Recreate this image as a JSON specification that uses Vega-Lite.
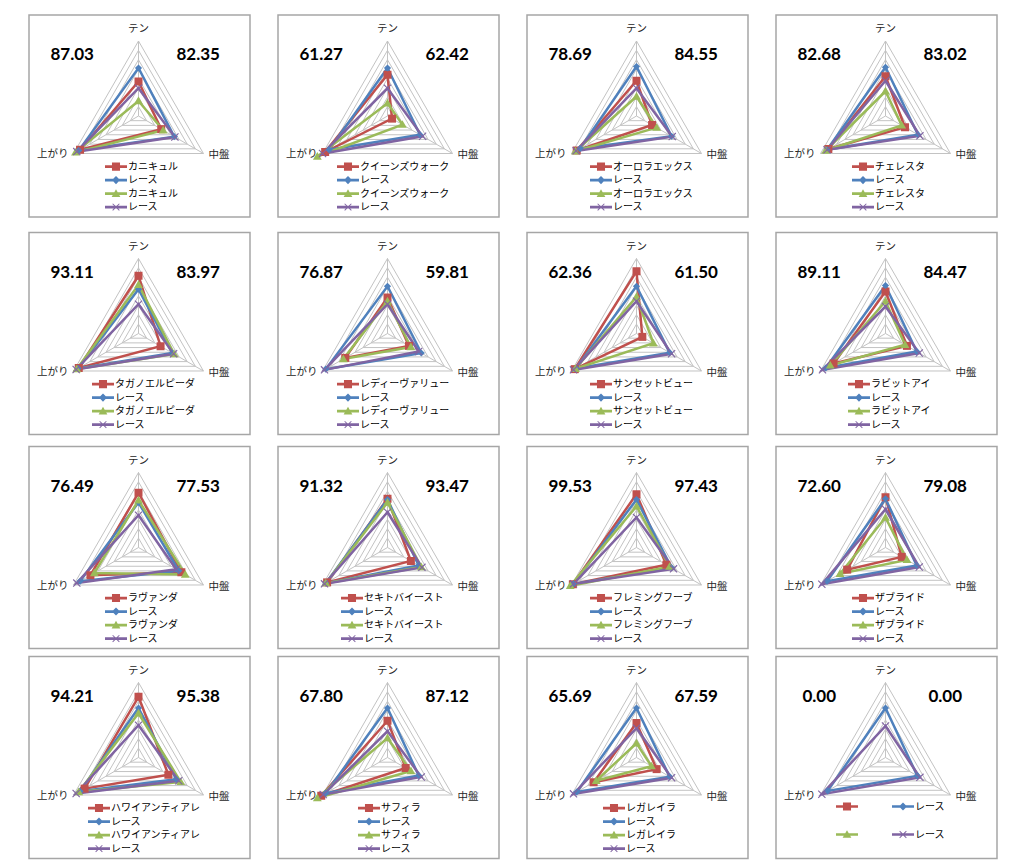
{
"$schema":"https://vega.github.io/schema/vega-lite/v6.json",
"padding":{"left":28,"top":14,"right":0,"bottom":0},
"background":"white",
"config":{"view":{"stroke":"#a6a6a6","strokeWidth":1.5},"font":"Noto Sans CJK JP",
"legend":{"symbolSize":180,"labelOffset":5,"rowPadding":1.5,"labelFontSize":10,"labelFont":"Noto Sans CJK JP","labelColor":"#000000","symbolStrokeWidth":0,"padding":0,"symbolOpacity":1,"labelLimit":200}},
"datasets":{
"g":[{"v":12.5,"a":"テン"},{"v":12.5,"a":"中盤"},{"v":12.5,"a":"上がり"},{"v":25,"a":"テン"},{"v":25,"a":"中盤"},{"v":25,"a":"上がり"},{"v":37.5,"a":"テン"},{"v":37.5,"a":"中盤"},{"v":37.5,"a":"上がり"},{"v":50,"a":"テン"},{"v":50,"a":"中盤"},{"v":50,"a":"上がり"},{"v":62.5,"a":"テン"},{"v":62.5,"a":"中盤"},{"v":62.5,"a":"上がり"},{"v":75,"a":"テン"},{"v":75,"a":"中盤"},{"v":75,"a":"上がり"},{"v":87.5,"a":"テン"},{"v":87.5,"a":"中盤"},{"v":87.5,"a":"上がり"},{"v":100,"a":"テン"},{"v":100,"a":"中盤"},{"v":100,"a":"上がり"}],
"n":[{"p":1,"l":"87.03","r":"82.35"},{"p":2,"l":"61.27","r":"62.42"},{"p":3,"l":"78.69","r":"84.55"},{"p":4,"l":"82.68","r":"83.02"},{"p":5,"l":"93.11","r":"83.97"},{"p":6,"l":"76.87","r":"59.81"},{"p":7,"l":"62.36","r":"61.50"},{"p":8,"l":"89.11","r":"84.47"},{"p":9,"l":"76.49","r":"77.53"},{"p":10,"l":"91.32","r":"93.47"},{"p":11,"l":"99.53","r":"97.43"},{"p":12,"l":"72.60","r":"79.08"},{"p":13,"l":"94.21","r":"95.38"},{"p":14,"l":"67.80","r":"87.12"},{"p":15,"l":"65.69","r":"67.59"},{"p":16,"l":"0.00","r":"0.00"}],
"s":[
{"p":1,"s":"1カニキュル","a":"テン","v":46},{"p":1,"s":"1カニキュル","a":"中盤","v":35},{"p":1,"s":"1カニキュル","a":"上がり","v":90},
{"p":1,"s":"2レース","a":"テン","v":64},{"p":1,"s":"2レース","a":"中盤","v":55},{"p":1,"s":"2レース","a":"上がり","v":92},
{"p":1,"s":"3カニキュル","a":"テン","v":20},{"p":1,"s":"3カニキュル","a":"中盤","v":38},{"p":1,"s":"3カニキュル","a":"上がり","v":97},
{"p":1,"s":"4レース","a":"テン","v":37},{"p":1,"s":"4レース","a":"中盤","v":56},{"p":1,"s":"4レース","a":"上がり","v":95},
{"p":2,"s":"1クイーンズウォーク","a":"テン","v":55},{"p":2,"s":"1クイーンズウォーク","a":"中盤","v":7},{"p":2,"s":"1クイーンズウォーク","a":"上がり","v":96},
{"p":2,"s":"2レース","a":"テン","v":64},{"p":2,"s":"2レース","a":"中盤","v":50},{"p":2,"s":"2レース","a":"上がり","v":90},
{"p":2,"s":"3クイーンズウォーク","a":"テン","v":17},{"p":2,"s":"3クイーンズウォーク","a":"中盤","v":23},{"p":2,"s":"3クイーンズウォーク","a":"上がり","v":108},
{"p":2,"s":"4レース","a":"テン","v":37},{"p":2,"s":"4レース","a":"中盤","v":54},{"p":2,"s":"4レース","a":"上がり","v":100},
{"p":3,"s":"1オーロラエックス","a":"テン","v":47},{"p":3,"s":"1オーロラエックス","a":"中盤","v":24},{"p":3,"s":"1オーロラエックス","a":"上がり","v":92},
{"p":3,"s":"2レース","a":"テン","v":66},{"p":3,"s":"2レース","a":"中盤","v":54},{"p":3,"s":"2レース","a":"上がり","v":87},
{"p":3,"s":"3オーロラエックス","a":"テン","v":26},{"p":3,"s":"3オーロラエックス","a":"中盤","v":31},{"p":3,"s":"3オーロラエックス","a":"上がり","v":94},
{"p":3,"s":"4レース","a":"テン","v":37},{"p":3,"s":"4レース","a":"中盤","v":55},{"p":3,"s":"4レース","a":"上がり","v":93},
{"p":4,"s":"1チェレスタ","a":"テン","v":53},{"p":4,"s":"1チェレスタ","a":"中盤","v":30},{"p":4,"s":"1チェレスタ","a":"上がり","v":88},
{"p":4,"s":"2レース","a":"テン","v":65},{"p":4,"s":"2レース","a":"中盤","v":50},{"p":4,"s":"2レース","a":"上がり","v":90},
{"p":4,"s":"3チェレスタ","a":"テン","v":33},{"p":4,"s":"3チェレスタ","a":"中盤","v":25},{"p":4,"s":"3チェレスタ","a":"上がり","v":92},
{"p":4,"s":"4レース","a":"テン","v":47},{"p":4,"s":"4レース","a":"中盤","v":53},{"p":4,"s":"4レース","a":"上がり","v":90},
{"p":5,"s":"1タガノエルピーダ","a":"テン","v":77},{"p":5,"s":"1タガノエルピーダ","a":"中盤","v":34},{"p":5,"s":"1タガノエルピーダ","a":"上がり","v":92},
{"p":5,"s":"2レース","a":"テン","v":59},{"p":5,"s":"2レース","a":"中盤","v":52},{"p":5,"s":"2レース","a":"上がり","v":93},
{"p":5,"s":"3タガノエルピーダ","a":"テン","v":65},{"p":5,"s":"3タガノエルピーダ","a":"中盤","v":55},{"p":5,"s":"3タガノエルピーダ","a":"上がり","v":95},
{"p":5,"s":"4レース","a":"テン","v":39},{"p":5,"s":"4レース","a":"中盤","v":54},{"p":5,"s":"4レース","a":"上がり","v":96},
{"p":6,"s":"1レディーヴァリュー","a":"テン","v":48},{"p":6,"s":"1レディーヴァリュー","a":"中盤","v":33},{"p":6,"s":"1レディーヴァリュー","a":"上がり","v":65},
{"p":6,"s":"2レース","a":"テン","v":63},{"p":6,"s":"2レース","a":"中盤","v":52},{"p":6,"s":"2レース","a":"上がり","v":95},
{"p":6,"s":"3レディーヴァリュー","a":"テン","v":43},{"p":6,"s":"3レディーヴァリュー","a":"中盤","v":36},{"p":6,"s":"3レディーヴァリュー","a":"上がり","v":68},
{"p":6,"s":"4レース","a":"テン","v":39},{"p":6,"s":"4レース","a":"中盤","v":48},{"p":6,"s":"4レース","a":"上がり","v":97},
{"p":7,"s":"1サンセットビュー","a":"テン","v":83},{"p":7,"s":"1サンセットビュー","a":"中盤","v":9},{"p":7,"s":"1サンセットビュー","a":"上がり","v":95},
{"p":7,"s":"2レース","a":"テン","v":63},{"p":7,"s":"2レース","a":"中盤","v":51},{"p":7,"s":"2レース","a":"上がり","v":93},
{"p":7,"s":"3サンセットビュー","a":"テン","v":49},{"p":7,"s":"3サンセットビュー","a":"中盤","v":26},{"p":7,"s":"3サンセットビュー","a":"上がり","v":94},
{"p":7,"s":"4レース","a":"テン","v":43},{"p":7,"s":"4レース","a":"中盤","v":54},{"p":7,"s":"4レース","a":"上がり","v":97},
{"p":8,"s":"1ラビットアイ","a":"テン","v":56},{"p":8,"s":"1ラビットアイ","a":"中盤","v":33},{"p":8,"s":"1ラビットアイ","a":"上がり","v":80},
{"p":8,"s":"2レース","a":"テン","v":64},{"p":8,"s":"2レース","a":"中盤","v":48},{"p":8,"s":"2レース","a":"上がり","v":92},
{"p":8,"s":"3ラビットアイ","a":"テン","v":43},{"p":8,"s":"3ラビットアイ","a":"中盤","v":30},{"p":8,"s":"3ラビットアイ","a":"上がり","v":85},
{"p":8,"s":"4レース","a":"テン","v":36},{"p":8,"s":"4レース","a":"中盤","v":52},{"p":8,"s":"4レース","a":"上がり","v":97},
{"p":9,"s":"1ラヴァンダ","a":"テン","v":73},{"p":9,"s":"1ラヴァンダ","a":"中盤","v":66},{"p":9,"s":"1ラヴァンダ","a":"上がり","v":74},
{"p":9,"s":"2レース","a":"テン","v":60},{"p":9,"s":"2レース","a":"中盤","v":62},{"p":9,"s":"2レース","a":"上がり","v":90},
{"p":9,"s":"3ラヴァンダ","a":"テン","v":63},{"p":9,"s":"3ラヴァンダ","a":"中盤","v":72},{"p":9,"s":"3ラヴァンダ","a":"上がり","v":68},
{"p":9,"s":"4レース","a":"テン","v":43},{"p":9,"s":"4レース","a":"中盤","v":58},{"p":9,"s":"4レース","a":"上がり","v":95},
{"p":10,"s":"1セキトバイースト","a":"テン","v":65},{"p":10,"s":"1セキトバイースト","a":"中盤","v":36},{"p":10,"s":"1セキトバイースト","a":"上がり","v":93},
{"p":10,"s":"2レース","a":"テン","v":64},{"p":10,"s":"2レース","a":"中盤","v":48},{"p":10,"s":"2レース","a":"上がり","v":95},
{"p":10,"s":"3セキトバイースト","a":"テン","v":60},{"p":10,"s":"3セキトバイースト","a":"中盤","v":52},{"p":10,"s":"3セキトバイースト","a":"上がり","v":95},
{"p":10,"s":"4レース","a":"テン","v":47},{"p":10,"s":"4レース","a":"中盤","v":53},{"p":10,"s":"4レース","a":"上がり","v":97},
{"p":11,"s":"1フレミングフーブ","a":"テン","v":71},{"p":11,"s":"1フレミングフーブ","a":"中盤","v":46},{"p":11,"s":"1フレミングフーブ","a":"上がり","v":98},
{"p":11,"s":"2レース","a":"テン","v":64},{"p":11,"s":"2レース","a":"中盤","v":54},{"p":11,"s":"2レース","a":"上がり","v":97},
{"p":11,"s":"3フレミングフーブ","a":"テン","v":55},{"p":11,"s":"3フレミングフーブ","a":"中盤","v":51},{"p":11,"s":"3フレミングフーブ","a":"上がり","v":102},
{"p":11,"s":"4レース","a":"テン","v":40},{"p":11,"s":"4レース","a":"中盤","v":57},{"p":11,"s":"4レース","a":"上がり","v":97},
{"p":12,"s":"1ザブライド","a":"テン","v":67},{"p":12,"s":"1ザブライド","a":"中盤","v":25},{"p":12,"s":"1ザブライド","a":"上がり","v":59},
{"p":12,"s":"2レース","a":"テン","v":65},{"p":12,"s":"2レース","a":"中盤","v":48},{"p":12,"s":"2レース","a":"上がり","v":90},
{"p":12,"s":"3ザブライド","a":"テン","v":40},{"p":12,"s":"3ザブライド","a":"中盤","v":33},{"p":12,"s":"3ザブライド","a":"上がり","v":70},
{"p":12,"s":"4レース","a":"テン","v":51},{"p":12,"s":"4レース","a":"中盤","v":52},{"p":12,"s":"4レース","a":"上がり","v":98},
{"p":13,"s":"1ハワイアンティアレ","a":"テン","v":81},{"p":13,"s":"1ハワイアンティアレ","a":"中盤","v":46},{"p":13,"s":"1ハワイアンティアレ","a":"上がり","v":83},
{"p":13,"s":"2レース","a":"テン","v":66},{"p":13,"s":"2レース","a":"中盤","v":58},{"p":13,"s":"2レース","a":"上がり","v":90},
{"p":13,"s":"3ハワイアンティアレ","a":"テン","v":59},{"p":13,"s":"3ハワイアンティアレ","a":"中盤","v":65},{"p":13,"s":"3ハワイアンティアレ","a":"上がり","v":92},
{"p":13,"s":"4レース","a":"テン","v":43},{"p":13,"s":"4レース","a":"中盤","v":62},{"p":13,"s":"4レース","a":"上がり","v":96},
{"p":14,"s":"1サフィラ","a":"テン","v":49},{"p":14,"s":"1サフィラ","a":"中盤","v":28},{"p":14,"s":"1サフィラ","a":"上がり","v":102},
{"p":14,"s":"2レース","a":"テン","v":66},{"p":14,"s":"2レース","a":"中盤","v":48},{"p":14,"s":"2レース","a":"上がり","v":95},
{"p":14,"s":"3サフィラ","a":"テン","v":26},{"p":14,"s":"3サフィラ","a":"中盤","v":36},{"p":14,"s":"3サフィラ","a":"上がり","v":108},
{"p":14,"s":"4レース","a":"テン","v":35},{"p":14,"s":"4レース","a":"中盤","v":52},{"p":14,"s":"4レース","a":"上がり","v":99},
{"p":15,"s":"1レガレイラ","a":"テン","v":46},{"p":15,"s":"1レガレイラ","a":"中盤","v":31},{"p":15,"s":"1レガレイラ","a":"上がり","v":66},
{"p":15,"s":"2レース","a":"テン","v":66},{"p":15,"s":"2レース","a":"中盤","v":51},{"p":15,"s":"2レース","a":"上がり","v":92},
{"p":15,"s":"3レガレイラ","a":"テン","v":19},{"p":15,"s":"3レガレイラ","a":"中盤","v":23},{"p":15,"s":"3レガレイラ","a":"上がり","v":62},
{"p":15,"s":"4レース","a":"テン","v":39},{"p":15,"s":"4レース","a":"中盤","v":54},{"p":15,"s":"4レース","a":"上がり","v":97},
{"p":16,"s":"2レース","a":"テン","v":66},{"p":16,"s":"2レース","a":"中盤","v":49},{"p":16,"s":"2レース","a":"上がり","v":89},
{"p":16,"s":"4レース","a":"テン","v":42},{"p":16,"s":"4レース","a":"中盤","v":53},{"p":16,"s":"4レース","a":"上がり","v":98}
]},
"vconcat":[
{"vconcat":[
{"hconcat":[
{"width":221,"height":202,"layer":[
{"data":{"name":"g"},"transform":[{"calculate":"indexof(['テン','中盤','上がり'],datum.a)","as":"k"},{"calculate":"datum.v*cos(PI/2-datum.k*2*PI/3)/100","as":"x"},{"calculate":"datum.v*sin(PI/2-datum.k*2*PI/3)/100","as":"y"}],"encoding":{"x":{"field":"x","type":"quantitative","scale":{"domain":[-1.46,1.4867],"nice":false,"zero":false},"axis":null},"y":{"field":"y","type":"quantitative","scale":{"domain":[-1.3467,1.3467],"nice":false,"zero":false},"axis":null}},"layer":[
{"mark":{"type":"line","interpolate":"linear-closed","stroke":"#c3c3c3","strokeWidth":1},"encoding":{"detail":{"field":"v","type":"nominal"},"order":{"field":"k","type":"quantitative"}}},
{"transform":[{"filter":"datum.v==100"}],"layer":[
{"mark":{"type":"rule","stroke":"#c3c3c3","strokeWidth":1},"encoding":{"x2":{"datum":0},"y2":{"datum":0}}},
{"transform":[{"filter":"datum.k==0"}],"mark":{"type":"text","dy":-12,"fontSize":10.5,"color":"#262626"},"encoding":{"text":{"field":"a"}}},
{"transform":[{"filter":"datum.k==1"}],"mark":{"type":"text","align":"left","dx":5,"dy":2,"fontSize":10.5,"color":"#262626"},"encoding":{"text":{"field":"a"}}},
{"transform":[{"filter":"datum.k==2"}],"mark":{"type":"text","align":"right","dx":-5,"dy":1,"fontSize":10.5,"color":"#262626"},"encoding":{"text":{"field":"a"}}}]}]},
{"data":{"name":"s"},"transform":[{"filter":"datum.p==1"},{"calculate":"indexof(['テン','中盤','上がり'],datum.a)","as":"k"},{"calculate":"datum.v*cos(PI/2-datum.k*2*PI/3)/100","as":"x"},{"calculate":"datum.v*sin(PI/2-datum.k*2*PI/3)/100","as":"y"}],"encoding":{"x":{"field":"x","type":"quantitative","scale":{"domain":[-1.46,1.4867],"nice":false,"zero":false},"axis":null},"y":{"field":"y","type":"quantitative","scale":{"domain":[-1.3467,1.3467],"nice":false,"zero":false},"axis":null}},
"layer":[
{"mark":{"type":"line","interpolate":"linear-closed","strokeWidth":2.5},"encoding":{"color":{"field":"s","type":"nominal","scale":{"range":["#C0504D","#4F81BD","#9BBB59","#8064A2"]},"legend":null},"order":{"field":"k","type":"quantitative"}}},
{"mark":{"type":"point","filled":true,"opacity":1,"size":64},"encoding":{"color":{"field":"s","type":"nominal","scale":{"range":["#C0504D","#4F81BD","#9BBB59","#8064A2"]},"legend":null},"shape":{"field":"s","type":"nominal","scale":{"range":["M-1,-1H1V1H-1Z","M0,-0.9L0.9,0L0,0.9L-0.9,0Z","M0,-1.1L1.1,0.8H-1.1Z","M-1,-0.8L-0.8,-1L1,0.8L0.8,1Z M0.8,-1L1,-0.8L-0.8,1L-1,0.8Z"]},"legend":null}}},
{"mark":{"type":"point","filled":true,"opacity":1,"size":0},"encoding":{"color":{"field":"s","type":"nominal","scale":{"range":["#C0504D","#4F81BD","#9BBB59","#8064A2"]},"legend":{"orient":"none","legendX":80,"legendY":144.6,"title":null,"labelExpr":"slice(datum.label,1)"}},"shape":{"field":"s","type":"nominal","scale":{"range":["M-1.64,-0.2H1.64V0.2H-1.64Z M-0.6,-0.6H0.6V0.6H-0.6Z","M-1.64,-0.2H1.64V0.2H-1.64Z M0,-0.6L0.6,0L0,0.6L-0.6,0Z","M-1.64,-0.2H1.64V0.2H-1.64Z M0,-0.65L0.65,0.5H-0.65Z","M-1.64,-0.2H1.64V0.2H-1.64Z M-0.55,-0.45L-0.45,-0.55L0.55,0.45L0.45,0.55Z M0.45,-0.55L0.55,-0.45L-0.45,0.55L-0.55,0.45Z"]},"legend":{"orient":"none","legendX":80,"legendY":144.6,"title":null,"labelExpr":"slice(datum.label,1)"}}}}],
"resolve":{"scale":{"color":"independent","shape":"independent"}}},
{"data":{"name":"n"},"transform":[{"filter":"datum.p==1"}],"layer":[
{"mark":{"type":"text","font":"Lato","fontWeight":"bold","fontSize":17,"color":"#000000"},"encoding":{"x":{"datum":-0.884,"type":"quantitative","axis":null},"y":{"datum":0.809,"type":"quantitative","axis":null},"text":{"field":"l"}}},
{"mark":{"type":"text","font":"Lato","fontWeight":"bold","fontSize":17,"color":"#000000"},"encoding":{"x":{"datum":0.796,"type":"quantitative","axis":null},"y":{"datum":0.809,"type":"quantitative","axis":null},"text":{"field":"r"}}}]}]},
{"width":221,"height":202,"layer":[
{"data":{"name":"g"},"transform":[{"calculate":"indexof(['テン','中盤','上がり'],datum.a)","as":"k"},{"calculate":"datum.v*cos(PI/2-datum.k*2*PI/3)/100","as":"x"},{"calculate":"datum.v*sin(PI/2-datum.k*2*PI/3)/100","as":"y"}],"encoding":{"x":{"field":"x","type":"quantitative","scale":{"domain":[-1.46,1.4867],"nice":false,"zero":false},"axis":null},"y":{"field":"y","type":"quantitative","scale":{"domain":[-1.3467,1.3467],"nice":false,"zero":false},"axis":null}},"layer":[
{"mark":{"type":"line","interpolate":"linear-closed","stroke":"#c3c3c3","strokeWidth":1},"encoding":{"detail":{"field":"v","type":"nominal"},"order":{"field":"k","type":"quantitative"}}},
{"transform":[{"filter":"datum.v==100"}],"layer":[
{"mark":{"type":"rule","stroke":"#c3c3c3","strokeWidth":1},"encoding":{"x2":{"datum":0},"y2":{"datum":0}}},
{"transform":[{"filter":"datum.k==0"}],"mark":{"type":"text","dy":-12,"fontSize":10.5,"color":"#262626"},"encoding":{"text":{"field":"a"}}},
{"transform":[{"filter":"datum.k==1"}],"mark":{"type":"text","align":"left","dx":5,"dy":2,"fontSize":10.5,"color":"#262626"},"encoding":{"text":{"field":"a"}}},
{"transform":[{"filter":"datum.k==2"}],"mark":{"type":"text","align":"right","dx":-5,"dy":1,"fontSize":10.5,"color":"#262626"},"encoding":{"text":{"field":"a"}}}]}]},
{"data":{"name":"s"},"transform":[{"filter":"datum.p==2"},{"calculate":"indexof(['テン','中盤','上がり'],datum.a)","as":"k"},{"calculate":"datum.v*cos(PI/2-datum.k*2*PI/3)/100","as":"x"},{"calculate":"datum.v*sin(PI/2-datum.k*2*PI/3)/100","as":"y"}],"encoding":{"x":{"field":"x","type":"quantitative","scale":{"domain":[-1.46,1.4867],"nice":false,"zero":false},"axis":null},"y":{"field":"y","type":"quantitative","scale":{"domain":[-1.3467,1.3467],"nice":false,"zero":false},"axis":null}},
"layer":[
{"mark":{"type":"line","interpolate":"linear-closed","strokeWidth":2.5},"encoding":{"color":{"field":"s","type":"nominal","scale":{"range":["#C0504D","#4F81BD","#9BBB59","#8064A2"]},"legend":null},"order":{"field":"k","type":"quantitative"}}},
{"mark":{"type":"point","filled":true,"opacity":1,"size":64},"encoding":{"color":{"field":"s","type":"nominal","scale":{"range":["#C0504D","#4F81BD","#9BBB59","#8064A2"]},"legend":null},"shape":{"field":"s","type":"nominal","scale":{"range":["M-1,-1H1V1H-1Z","M0,-0.9L0.9,0L0,0.9L-0.9,0Z","M0,-1.1L1.1,0.8H-1.1Z","M-1,-0.8L-0.8,-1L1,0.8L0.8,1Z M0.8,-1L1,-0.8L-0.8,1L-1,0.8Z"]},"legend":null}}},
{"mark":{"type":"point","filled":true,"opacity":1,"size":0},"encoding":{"color":{"field":"s","type":"nominal","scale":{"range":["#C0504D","#4F81BD","#9BBB59","#8064A2"]},"legend":{"orient":"none","legendX":63,"legendY":144.6,"title":null,"labelExpr":"slice(datum.label,1)"}},"shape":{"field":"s","type":"nominal","scale":{"range":["M-1.64,-0.2H1.64V0.2H-1.64Z M-0.6,-0.6H0.6V0.6H-0.6Z","M-1.64,-0.2H1.64V0.2H-1.64Z M0,-0.6L0.6,0L0,0.6L-0.6,0Z","M-1.64,-0.2H1.64V0.2H-1.64Z M0,-0.65L0.65,0.5H-0.65Z","M-1.64,-0.2H1.64V0.2H-1.64Z M-0.55,-0.45L-0.45,-0.55L0.55,0.45L0.45,0.55Z M0.45,-0.55L0.55,-0.45L-0.45,0.55L-0.55,0.45Z"]},"legend":{"orient":"none","legendX":63,"legendY":144.6,"title":null,"labelExpr":"slice(datum.label,1)"}}}}],
"resolve":{"scale":{"color":"independent","shape":"independent"}}},
{"data":{"name":"n"},"transform":[{"filter":"datum.p==2"}],"layer":[
{"mark":{"type":"text","font":"Lato","fontWeight":"bold","fontSize":17,"color":"#000000"},"encoding":{"x":{"datum":-0.884,"type":"quantitative","axis":null},"y":{"datum":0.809,"type":"quantitative","axis":null},"text":{"field":"l"}}},
{"mark":{"type":"text","font":"Lato","fontWeight":"bold","fontSize":17,"color":"#000000"},"encoding":{"x":{"datum":0.796,"type":"quantitative","axis":null},"y":{"datum":0.809,"type":"quantitative","axis":null},"text":{"field":"r"}}}]}]},
{"width":221,"height":202,"layer":[
{"data":{"name":"g"},"transform":[{"calculate":"indexof(['テン','中盤','上がり'],datum.a)","as":"k"},{"calculate":"datum.v*cos(PI/2-datum.k*2*PI/3)/100","as":"x"},{"calculate":"datum.v*sin(PI/2-datum.k*2*PI/3)/100","as":"y"}],"encoding":{"x":{"field":"x","type":"quantitative","scale":{"domain":[-1.46,1.4867],"nice":false,"zero":false},"axis":null},"y":{"field":"y","type":"quantitative","scale":{"domain":[-1.3467,1.3467],"nice":false,"zero":false},"axis":null}},"layer":[
{"mark":{"type":"line","interpolate":"linear-closed","stroke":"#c3c3c3","strokeWidth":1},"encoding":{"detail":{"field":"v","type":"nominal"},"order":{"field":"k","type":"quantitative"}}},
{"transform":[{"filter":"datum.v==100"}],"layer":[
{"mark":{"type":"rule","stroke":"#c3c3c3","strokeWidth":1},"encoding":{"x2":{"datum":0},"y2":{"datum":0}}},
{"transform":[{"filter":"datum.k==0"}],"mark":{"type":"text","dy":-12,"fontSize":10.5,"color":"#262626"},"encoding":{"text":{"field":"a"}}},
{"transform":[{"filter":"datum.k==1"}],"mark":{"type":"text","align":"left","dx":5,"dy":2,"fontSize":10.5,"color":"#262626"},"encoding":{"text":{"field":"a"}}},
{"transform":[{"filter":"datum.k==2"}],"mark":{"type":"text","align":"right","dx":-5,"dy":1,"fontSize":10.5,"color":"#262626"},"encoding":{"text":{"field":"a"}}}]}]},
{"data":{"name":"s"},"transform":[{"filter":"datum.p==3"},{"calculate":"indexof(['テン','中盤','上がり'],datum.a)","as":"k"},{"calculate":"datum.v*cos(PI/2-datum.k*2*PI/3)/100","as":"x"},{"calculate":"datum.v*sin(PI/2-datum.k*2*PI/3)/100","as":"y"}],"encoding":{"x":{"field":"x","type":"quantitative","scale":{"domain":[-1.46,1.4867],"nice":false,"zero":false},"axis":null},"y":{"field":"y","type":"quantitative","scale":{"domain":[-1.3467,1.3467],"nice":false,"zero":false},"axis":null}},
"layer":[
{"mark":{"type":"line","interpolate":"linear-closed","strokeWidth":2.5},"encoding":{"color":{"field":"s","type":"nominal","scale":{"range":["#C0504D","#4F81BD","#9BBB59","#8064A2"]},"legend":null},"order":{"field":"k","type":"quantitative"}}},
{"mark":{"type":"point","filled":true,"opacity":1,"size":64},"encoding":{"color":{"field":"s","type":"nominal","scale":{"range":["#C0504D","#4F81BD","#9BBB59","#8064A2"]},"legend":null},"shape":{"field":"s","type":"nominal","scale":{"range":["M-1,-1H1V1H-1Z","M0,-0.9L0.9,0L0,0.9L-0.9,0Z","M0,-1.1L1.1,0.8H-1.1Z","M-1,-0.8L-0.8,-1L1,0.8L0.8,1Z M0.8,-1L1,-0.8L-0.8,1L-1,0.8Z"]},"legend":null}}},
{"mark":{"type":"point","filled":true,"opacity":1,"size":0},"encoding":{"color":{"field":"s","type":"nominal","scale":{"range":["#C0504D","#4F81BD","#9BBB59","#8064A2"]},"legend":{"orient":"none","legendX":67,"legendY":144.6,"title":null,"labelExpr":"slice(datum.label,1)"}},"shape":{"field":"s","type":"nominal","scale":{"range":["M-1.64,-0.2H1.64V0.2H-1.64Z M-0.6,-0.6H0.6V0.6H-0.6Z","M-1.64,-0.2H1.64V0.2H-1.64Z M0,-0.6L0.6,0L0,0.6L-0.6,0Z","M-1.64,-0.2H1.64V0.2H-1.64Z M0,-0.65L0.65,0.5H-0.65Z","M-1.64,-0.2H1.64V0.2H-1.64Z M-0.55,-0.45L-0.45,-0.55L0.55,0.45L0.45,0.55Z M0.45,-0.55L0.55,-0.45L-0.45,0.55L-0.55,0.45Z"]},"legend":{"orient":"none","legendX":67,"legendY":144.6,"title":null,"labelExpr":"slice(datum.label,1)"}}}}],
"resolve":{"scale":{"color":"independent","shape":"independent"}}},
{"data":{"name":"n"},"transform":[{"filter":"datum.p==3"}],"layer":[
{"mark":{"type":"text","font":"Lato","fontWeight":"bold","fontSize":17,"color":"#000000"},"encoding":{"x":{"datum":-0.884,"type":"quantitative","axis":null},"y":{"datum":0.809,"type":"quantitative","axis":null},"text":{"field":"l"}}},
{"mark":{"type":"text","font":"Lato","fontWeight":"bold","fontSize":17,"color":"#000000"},"encoding":{"x":{"datum":0.796,"type":"quantitative","axis":null},"y":{"datum":0.809,"type":"quantitative","axis":null},"text":{"field":"r"}}}]}]},
{"width":221,"height":202,"layer":[
{"data":{"name":"g"},"transform":[{"calculate":"indexof(['テン','中盤','上がり'],datum.a)","as":"k"},{"calculate":"datum.v*cos(PI/2-datum.k*2*PI/3)/100","as":"x"},{"calculate":"datum.v*sin(PI/2-datum.k*2*PI/3)/100","as":"y"}],"encoding":{"x":{"field":"x","type":"quantitative","scale":{"domain":[-1.46,1.4867],"nice":false,"zero":false},"axis":null},"y":{"field":"y","type":"quantitative","scale":{"domain":[-1.3467,1.3467],"nice":false,"zero":false},"axis":null}},"layer":[
{"mark":{"type":"line","interpolate":"linear-closed","stroke":"#c3c3c3","strokeWidth":1},"encoding":{"detail":{"field":"v","type":"nominal"},"order":{"field":"k","type":"quantitative"}}},
{"transform":[{"filter":"datum.v==100"}],"layer":[
{"mark":{"type":"rule","stroke":"#c3c3c3","strokeWidth":1},"encoding":{"x2":{"datum":0},"y2":{"datum":0}}},
{"transform":[{"filter":"datum.k==0"}],"mark":{"type":"text","dy":-12,"fontSize":10.5,"color":"#262626"},"encoding":{"text":{"field":"a"}}},
{"transform":[{"filter":"datum.k==1"}],"mark":{"type":"text","align":"left","dx":5,"dy":2,"fontSize":10.5,"color":"#262626"},"encoding":{"text":{"field":"a"}}},
{"transform":[{"filter":"datum.k==2"}],"mark":{"type":"text","align":"right","dx":-5,"dy":1,"fontSize":10.5,"color":"#262626"},"encoding":{"text":{"field":"a"}}}]}]},
{"data":{"name":"s"},"transform":[{"filter":"datum.p==4"},{"calculate":"indexof(['テン','中盤','上がり'],datum.a)","as":"k"},{"calculate":"datum.v*cos(PI/2-datum.k*2*PI/3)/100","as":"x"},{"calculate":"datum.v*sin(PI/2-datum.k*2*PI/3)/100","as":"y"}],"encoding":{"x":{"field":"x","type":"quantitative","scale":{"domain":[-1.46,1.4867],"nice":false,"zero":false},"axis":null},"y":{"field":"y","type":"quantitative","scale":{"domain":[-1.3467,1.3467],"nice":false,"zero":false},"axis":null}},
"layer":[
{"mark":{"type":"line","interpolate":"linear-closed","strokeWidth":2.5},"encoding":{"color":{"field":"s","type":"nominal","scale":{"range":["#C0504D","#4F81BD","#9BBB59","#8064A2"]},"legend":null},"order":{"field":"k","type":"quantitative"}}},
{"mark":{"type":"point","filled":true,"opacity":1,"size":64},"encoding":{"color":{"field":"s","type":"nominal","scale":{"range":["#C0504D","#4F81BD","#9BBB59","#8064A2"]},"legend":null},"shape":{"field":"s","type":"nominal","scale":{"range":["M-1,-1H1V1H-1Z","M0,-0.9L0.9,0L0,0.9L-0.9,0Z","M0,-1.1L1.1,0.8H-1.1Z","M-1,-0.8L-0.8,-1L1,0.8L0.8,1Z M0.8,-1L1,-0.8L-0.8,1L-1,0.8Z"]},"legend":null}}},
{"mark":{"type":"point","filled":true,"opacity":1,"size":0},"encoding":{"color":{"field":"s","type":"nominal","scale":{"range":["#C0504D","#4F81BD","#9BBB59","#8064A2"]},"legend":{"orient":"none","legendX":80,"legendY":144.6,"title":null,"labelExpr":"slice(datum.label,1)"}},"shape":{"field":"s","type":"nominal","scale":{"range":["M-1.64,-0.2H1.64V0.2H-1.64Z M-0.6,-0.6H0.6V0.6H-0.6Z","M-1.64,-0.2H1.64V0.2H-1.64Z M0,-0.6L0.6,0L0,0.6L-0.6,0Z","M-1.64,-0.2H1.64V0.2H-1.64Z M0,-0.65L0.65,0.5H-0.65Z","M-1.64,-0.2H1.64V0.2H-1.64Z M-0.55,-0.45L-0.45,-0.55L0.55,0.45L0.45,0.55Z M0.45,-0.55L0.55,-0.45L-0.45,0.55L-0.55,0.45Z"]},"legend":{"orient":"none","legendX":80,"legendY":144.6,"title":null,"labelExpr":"slice(datum.label,1)"}}}}],
"resolve":{"scale":{"color":"independent","shape":"independent"}}},
{"data":{"name":"n"},"transform":[{"filter":"datum.p==4"}],"layer":[
{"mark":{"type":"text","font":"Lato","fontWeight":"bold","fontSize":17,"color":"#000000"},"encoding":{"x":{"datum":-0.884,"type":"quantitative","axis":null},"y":{"datum":0.809,"type":"quantitative","axis":null},"text":{"field":"l"}}},
{"mark":{"type":"text","font":"Lato","fontWeight":"bold","fontSize":17,"color":"#000000"},"encoding":{"x":{"datum":0.796,"type":"quantitative","axis":null},"y":{"datum":0.809,"type":"quantitative","axis":null},"text":{"field":"r"}}}]}]}
],"spacing":26,"resolve":{"scale":{"color":"independent","shape":"independent"},"legend":{"color":"independent","shape":"independent"}}},
{"hconcat":[
{"width":221,"height":202,"layer":[
{"data":{"name":"g"},"transform":[{"calculate":"indexof(['テン','中盤','上がり'],datum.a)","as":"k"},{"calculate":"datum.v*cos(PI/2-datum.k*2*PI/3)/100","as":"x"},{"calculate":"datum.v*sin(PI/2-datum.k*2*PI/3)/100","as":"y"}],"encoding":{"x":{"field":"x","type":"quantitative","scale":{"domain":[-1.46,1.4867],"nice":false,"zero":false},"axis":null},"y":{"field":"y","type":"quantitative","scale":{"domain":[-1.3467,1.3467],"nice":false,"zero":false},"axis":null}},"layer":[
{"mark":{"type":"line","interpolate":"linear-closed","stroke":"#c3c3c3","strokeWidth":1},"encoding":{"detail":{"field":"v","type":"nominal"},"order":{"field":"k","type":"quantitative"}}},
{"transform":[{"filter":"datum.v==100"}],"layer":[
{"mark":{"type":"rule","stroke":"#c3c3c3","strokeWidth":1},"encoding":{"x2":{"datum":0},"y2":{"datum":0}}},
{"transform":[{"filter":"datum.k==0"}],"mark":{"type":"text","dy":-12,"fontSize":10.5,"color":"#262626"},"encoding":{"text":{"field":"a"}}},
{"transform":[{"filter":"datum.k==1"}],"mark":{"type":"text","align":"left","dx":5,"dy":2,"fontSize":10.5,"color":"#262626"},"encoding":{"text":{"field":"a"}}},
{"transform":[{"filter":"datum.k==2"}],"mark":{"type":"text","align":"right","dx":-5,"dy":1,"fontSize":10.5,"color":"#262626"},"encoding":{"text":{"field":"a"}}}]}]},
{"data":{"name":"s"},"transform":[{"filter":"datum.p==5"},{"calculate":"indexof(['テン','中盤','上がり'],datum.a)","as":"k"},{"calculate":"datum.v*cos(PI/2-datum.k*2*PI/3)/100","as":"x"},{"calculate":"datum.v*sin(PI/2-datum.k*2*PI/3)/100","as":"y"}],"encoding":{"x":{"field":"x","type":"quantitative","scale":{"domain":[-1.46,1.4867],"nice":false,"zero":false},"axis":null},"y":{"field":"y","type":"quantitative","scale":{"domain":[-1.3467,1.3467],"nice":false,"zero":false},"axis":null}},
"layer":[
{"mark":{"type":"line","interpolate":"linear-closed","strokeWidth":2.5},"encoding":{"color":{"field":"s","type":"nominal","scale":{"range":["#C0504D","#4F81BD","#9BBB59","#8064A2"]},"legend":null},"order":{"field":"k","type":"quantitative"}}},
{"mark":{"type":"point","filled":true,"opacity":1,"size":64},"encoding":{"color":{"field":"s","type":"nominal","scale":{"range":["#C0504D","#4F81BD","#9BBB59","#8064A2"]},"legend":null},"shape":{"field":"s","type":"nominal","scale":{"range":["M-1,-1H1V1H-1Z","M0,-0.9L0.9,0L0,0.9L-0.9,0Z","M0,-1.1L1.1,0.8H-1.1Z","M-1,-0.8L-0.8,-1L1,0.8L0.8,1Z M0.8,-1L1,-0.8L-0.8,1L-1,0.8Z"]},"legend":null}}},
{"mark":{"type":"point","filled":true,"opacity":1,"size":0},"encoding":{"color":{"field":"s","type":"nominal","scale":{"range":["#C0504D","#4F81BD","#9BBB59","#8064A2"]},"legend":{"orient":"none","legendX":67,"legendY":144.6,"title":null,"labelExpr":"slice(datum.label,1)"}},"shape":{"field":"s","type":"nominal","scale":{"range":["M-1.64,-0.2H1.64V0.2H-1.64Z M-0.6,-0.6H0.6V0.6H-0.6Z","M-1.64,-0.2H1.64V0.2H-1.64Z M0,-0.6L0.6,0L0,0.6L-0.6,0Z","M-1.64,-0.2H1.64V0.2H-1.64Z M0,-0.65L0.65,0.5H-0.65Z","M-1.64,-0.2H1.64V0.2H-1.64Z M-0.55,-0.45L-0.45,-0.55L0.55,0.45L0.45,0.55Z M0.45,-0.55L0.55,-0.45L-0.45,0.55L-0.55,0.45Z"]},"legend":{"orient":"none","legendX":67,"legendY":144.6,"title":null,"labelExpr":"slice(datum.label,1)"}}}}],
"resolve":{"scale":{"color":"independent","shape":"independent"}}},
{"data":{"name":"n"},"transform":[{"filter":"datum.p==5"}],"layer":[
{"mark":{"type":"text","font":"Lato","fontWeight":"bold","fontSize":17,"color":"#000000"},"encoding":{"x":{"datum":-0.884,"type":"quantitative","axis":null},"y":{"datum":0.809,"type":"quantitative","axis":null},"text":{"field":"l"}}},
{"mark":{"type":"text","font":"Lato","fontWeight":"bold","fontSize":17,"color":"#000000"},"encoding":{"x":{"datum":0.796,"type":"quantitative","axis":null},"y":{"datum":0.809,"type":"quantitative","axis":null},"text":{"field":"r"}}}]}]},
{"width":221,"height":202,"layer":[
{"data":{"name":"g"},"transform":[{"calculate":"indexof(['テン','中盤','上がり'],datum.a)","as":"k"},{"calculate":"datum.v*cos(PI/2-datum.k*2*PI/3)/100","as":"x"},{"calculate":"datum.v*sin(PI/2-datum.k*2*PI/3)/100","as":"y"}],"encoding":{"x":{"field":"x","type":"quantitative","scale":{"domain":[-1.46,1.4867],"nice":false,"zero":false},"axis":null},"y":{"field":"y","type":"quantitative","scale":{"domain":[-1.3467,1.3467],"nice":false,"zero":false},"axis":null}},"layer":[
{"mark":{"type":"line","interpolate":"linear-closed","stroke":"#c3c3c3","strokeWidth":1},"encoding":{"detail":{"field":"v","type":"nominal"},"order":{"field":"k","type":"quantitative"}}},
{"transform":[{"filter":"datum.v==100"}],"layer":[
{"mark":{"type":"rule","stroke":"#c3c3c3","strokeWidth":1},"encoding":{"x2":{"datum":0},"y2":{"datum":0}}},
{"transform":[{"filter":"datum.k==0"}],"mark":{"type":"text","dy":-12,"fontSize":10.5,"color":"#262626"},"encoding":{"text":{"field":"a"}}},
{"transform":[{"filter":"datum.k==1"}],"mark":{"type":"text","align":"left","dx":5,"dy":2,"fontSize":10.5,"color":"#262626"},"encoding":{"text":{"field":"a"}}},
{"transform":[{"filter":"datum.k==2"}],"mark":{"type":"text","align":"right","dx":-5,"dy":1,"fontSize":10.5,"color":"#262626"},"encoding":{"text":{"field":"a"}}}]}]},
{"data":{"name":"s"},"transform":[{"filter":"datum.p==6"},{"calculate":"indexof(['テン','中盤','上がり'],datum.a)","as":"k"},{"calculate":"datum.v*cos(PI/2-datum.k*2*PI/3)/100","as":"x"},{"calculate":"datum.v*sin(PI/2-datum.k*2*PI/3)/100","as":"y"}],"encoding":{"x":{"field":"x","type":"quantitative","scale":{"domain":[-1.46,1.4867],"nice":false,"zero":false},"axis":null},"y":{"field":"y","type":"quantitative","scale":{"domain":[-1.3467,1.3467],"nice":false,"zero":false},"axis":null}},
"layer":[
{"mark":{"type":"line","interpolate":"linear-closed","strokeWidth":2.5},"encoding":{"color":{"field":"s","type":"nominal","scale":{"range":["#C0504D","#4F81BD","#9BBB59","#8064A2"]},"legend":null},"order":{"field":"k","type":"quantitative"}}},
{"mark":{"type":"point","filled":true,"opacity":1,"size":64},"encoding":{"color":{"field":"s","type":"nominal","scale":{"range":["#C0504D","#4F81BD","#9BBB59","#8064A2"]},"legend":null},"shape":{"field":"s","type":"nominal","scale":{"range":["M-1,-1H1V1H-1Z","M0,-0.9L0.9,0L0,0.9L-0.9,0Z","M0,-1.1L1.1,0.8H-1.1Z","M-1,-0.8L-0.8,-1L1,0.8L0.8,1Z M0.8,-1L1,-0.8L-0.8,1L-1,0.8Z"]},"legend":null}}},
{"mark":{"type":"point","filled":true,"opacity":1,"size":0},"encoding":{"color":{"field":"s","type":"nominal","scale":{"range":["#C0504D","#4F81BD","#9BBB59","#8064A2"]},"legend":{"orient":"none","legendX":63,"legendY":144.6,"title":null,"labelExpr":"slice(datum.label,1)"}},"shape":{"field":"s","type":"nominal","scale":{"range":["M-1.64,-0.2H1.64V0.2H-1.64Z M-0.6,-0.6H0.6V0.6H-0.6Z","M-1.64,-0.2H1.64V0.2H-1.64Z M0,-0.6L0.6,0L0,0.6L-0.6,0Z","M-1.64,-0.2H1.64V0.2H-1.64Z M0,-0.65L0.65,0.5H-0.65Z","M-1.64,-0.2H1.64V0.2H-1.64Z M-0.55,-0.45L-0.45,-0.55L0.55,0.45L0.45,0.55Z M0.45,-0.55L0.55,-0.45L-0.45,0.55L-0.55,0.45Z"]},"legend":{"orient":"none","legendX":63,"legendY":144.6,"title":null,"labelExpr":"slice(datum.label,1)"}}}}],
"resolve":{"scale":{"color":"independent","shape":"independent"}}},
{"data":{"name":"n"},"transform":[{"filter":"datum.p==6"}],"layer":[
{"mark":{"type":"text","font":"Lato","fontWeight":"bold","fontSize":17,"color":"#000000"},"encoding":{"x":{"datum":-0.884,"type":"quantitative","axis":null},"y":{"datum":0.809,"type":"quantitative","axis":null},"text":{"field":"l"}}},
{"mark":{"type":"text","font":"Lato","fontWeight":"bold","fontSize":17,"color":"#000000"},"encoding":{"x":{"datum":0.796,"type":"quantitative","axis":null},"y":{"datum":0.809,"type":"quantitative","axis":null},"text":{"field":"r"}}}]}]},
{"width":221,"height":202,"layer":[
{"data":{"name":"g"},"transform":[{"calculate":"indexof(['テン','中盤','上がり'],datum.a)","as":"k"},{"calculate":"datum.v*cos(PI/2-datum.k*2*PI/3)/100","as":"x"},{"calculate":"datum.v*sin(PI/2-datum.k*2*PI/3)/100","as":"y"}],"encoding":{"x":{"field":"x","type":"quantitative","scale":{"domain":[-1.46,1.4867],"nice":false,"zero":false},"axis":null},"y":{"field":"y","type":"quantitative","scale":{"domain":[-1.3467,1.3467],"nice":false,"zero":false},"axis":null}},"layer":[
{"mark":{"type":"line","interpolate":"linear-closed","stroke":"#c3c3c3","strokeWidth":1},"encoding":{"detail":{"field":"v","type":"nominal"},"order":{"field":"k","type":"quantitative"}}},
{"transform":[{"filter":"datum.v==100"}],"layer":[
{"mark":{"type":"rule","stroke":"#c3c3c3","strokeWidth":1},"encoding":{"x2":{"datum":0},"y2":{"datum":0}}},
{"transform":[{"filter":"datum.k==0"}],"mark":{"type":"text","dy":-12,"fontSize":10.5,"color":"#262626"},"encoding":{"text":{"field":"a"}}},
{"transform":[{"filter":"datum.k==1"}],"mark":{"type":"text","align":"left","dx":5,"dy":2,"fontSize":10.5,"color":"#262626"},"encoding":{"text":{"field":"a"}}},
{"transform":[{"filter":"datum.k==2"}],"mark":{"type":"text","align":"right","dx":-5,"dy":1,"fontSize":10.5,"color":"#262626"},"encoding":{"text":{"field":"a"}}}]}]},
{"data":{"name":"s"},"transform":[{"filter":"datum.p==7"},{"calculate":"indexof(['テン','中盤','上がり'],datum.a)","as":"k"},{"calculate":"datum.v*cos(PI/2-datum.k*2*PI/3)/100","as":"x"},{"calculate":"datum.v*sin(PI/2-datum.k*2*PI/3)/100","as":"y"}],"encoding":{"x":{"field":"x","type":"quantitative","scale":{"domain":[-1.46,1.4867],"nice":false,"zero":false},"axis":null},"y":{"field":"y","type":"quantitative","scale":{"domain":[-1.3467,1.3467],"nice":false,"zero":false},"axis":null}},
"layer":[
{"mark":{"type":"line","interpolate":"linear-closed","strokeWidth":2.5},"encoding":{"color":{"field":"s","type":"nominal","scale":{"range":["#C0504D","#4F81BD","#9BBB59","#8064A2"]},"legend":null},"order":{"field":"k","type":"quantitative"}}},
{"mark":{"type":"point","filled":true,"opacity":1,"size":64},"encoding":{"color":{"field":"s","type":"nominal","scale":{"range":["#C0504D","#4F81BD","#9BBB59","#8064A2"]},"legend":null},"shape":{"field":"s","type":"nominal","scale":{"range":["M-1,-1H1V1H-1Z","M0,-0.9L0.9,0L0,0.9L-0.9,0Z","M0,-1.1L1.1,0.8H-1.1Z","M-1,-0.8L-0.8,-1L1,0.8L0.8,1Z M0.8,-1L1,-0.8L-0.8,1L-1,0.8Z"]},"legend":null}}},
{"mark":{"type":"point","filled":true,"opacity":1,"size":0},"encoding":{"color":{"field":"s","type":"nominal","scale":{"range":["#C0504D","#4F81BD","#9BBB59","#8064A2"]},"legend":{"orient":"none","legendX":67,"legendY":144.6,"title":null,"labelExpr":"slice(datum.label,1)"}},"shape":{"field":"s","type":"nominal","scale":{"range":["M-1.64,-0.2H1.64V0.2H-1.64Z M-0.6,-0.6H0.6V0.6H-0.6Z","M-1.64,-0.2H1.64V0.2H-1.64Z M0,-0.6L0.6,0L0,0.6L-0.6,0Z","M-1.64,-0.2H1.64V0.2H-1.64Z M0,-0.65L0.65,0.5H-0.65Z","M-1.64,-0.2H1.64V0.2H-1.64Z M-0.55,-0.45L-0.45,-0.55L0.55,0.45L0.45,0.55Z M0.45,-0.55L0.55,-0.45L-0.45,0.55L-0.55,0.45Z"]},"legend":{"orient":"none","legendX":67,"legendY":144.6,"title":null,"labelExpr":"slice(datum.label,1)"}}}}],
"resolve":{"scale":{"color":"independent","shape":"independent"}}},
{"data":{"name":"n"},"transform":[{"filter":"datum.p==7"}],"layer":[
{"mark":{"type":"text","font":"Lato","fontWeight":"bold","fontSize":17,"color":"#000000"},"encoding":{"x":{"datum":-0.884,"type":"quantitative","axis":null},"y":{"datum":0.809,"type":"quantitative","axis":null},"text":{"field":"l"}}},
{"mark":{"type":"text","font":"Lato","fontWeight":"bold","fontSize":17,"color":"#000000"},"encoding":{"x":{"datum":0.796,"type":"quantitative","axis":null},"y":{"datum":0.809,"type":"quantitative","axis":null},"text":{"field":"r"}}}]}]},
{"width":221,"height":202,"layer":[
{"data":{"name":"g"},"transform":[{"calculate":"indexof(['テン','中盤','上がり'],datum.a)","as":"k"},{"calculate":"datum.v*cos(PI/2-datum.k*2*PI/3)/100","as":"x"},{"calculate":"datum.v*sin(PI/2-datum.k*2*PI/3)/100","as":"y"}],"encoding":{"x":{"field":"x","type":"quantitative","scale":{"domain":[-1.46,1.4867],"nice":false,"zero":false},"axis":null},"y":{"field":"y","type":"quantitative","scale":{"domain":[-1.3467,1.3467],"nice":false,"zero":false},"axis":null}},"layer":[
{"mark":{"type":"line","interpolate":"linear-closed","stroke":"#c3c3c3","strokeWidth":1},"encoding":{"detail":{"field":"v","type":"nominal"},"order":{"field":"k","type":"quantitative"}}},
{"transform":[{"filter":"datum.v==100"}],"layer":[
{"mark":{"type":"rule","stroke":"#c3c3c3","strokeWidth":1},"encoding":{"x2":{"datum":0},"y2":{"datum":0}}},
{"transform":[{"filter":"datum.k==0"}],"mark":{"type":"text","dy":-12,"fontSize":10.5,"color":"#262626"},"encoding":{"text":{"field":"a"}}},
{"transform":[{"filter":"datum.k==1"}],"mark":{"type":"text","align":"left","dx":5,"dy":2,"fontSize":10.5,"color":"#262626"},"encoding":{"text":{"field":"a"}}},
{"transform":[{"filter":"datum.k==2"}],"mark":{"type":"text","align":"right","dx":-5,"dy":1,"fontSize":10.5,"color":"#262626"},"encoding":{"text":{"field":"a"}}}]}]},
{"data":{"name":"s"},"transform":[{"filter":"datum.p==8"},{"calculate":"indexof(['テン','中盤','上がり'],datum.a)","as":"k"},{"calculate":"datum.v*cos(PI/2-datum.k*2*PI/3)/100","as":"x"},{"calculate":"datum.v*sin(PI/2-datum.k*2*PI/3)/100","as":"y"}],"encoding":{"x":{"field":"x","type":"quantitative","scale":{"domain":[-1.46,1.4867],"nice":false,"zero":false},"axis":null},"y":{"field":"y","type":"quantitative","scale":{"domain":[-1.3467,1.3467],"nice":false,"zero":false},"axis":null}},
"layer":[
{"mark":{"type":"line","interpolate":"linear-closed","strokeWidth":2.5},"encoding":{"color":{"field":"s","type":"nominal","scale":{"range":["#C0504D","#4F81BD","#9BBB59","#8064A2"]},"legend":null},"order":{"field":"k","type":"quantitative"}}},
{"mark":{"type":"point","filled":true,"opacity":1,"size":64},"encoding":{"color":{"field":"s","type":"nominal","scale":{"range":["#C0504D","#4F81BD","#9BBB59","#8064A2"]},"legend":null},"shape":{"field":"s","type":"nominal","scale":{"range":["M-1,-1H1V1H-1Z","M0,-0.9L0.9,0L0,0.9L-0.9,0Z","M0,-1.1L1.1,0.8H-1.1Z","M-1,-0.8L-0.8,-1L1,0.8L0.8,1Z M0.8,-1L1,-0.8L-0.8,1L-1,0.8Z"]},"legend":null}}},
{"mark":{"type":"point","filled":true,"opacity":1,"size":0},"encoding":{"color":{"field":"s","type":"nominal","scale":{"range":["#C0504D","#4F81BD","#9BBB59","#8064A2"]},"legend":{"orient":"none","legendX":76,"legendY":144.6,"title":null,"labelExpr":"slice(datum.label,1)"}},"shape":{"field":"s","type":"nominal","scale":{"range":["M-1.64,-0.2H1.64V0.2H-1.64Z M-0.6,-0.6H0.6V0.6H-0.6Z","M-1.64,-0.2H1.64V0.2H-1.64Z M0,-0.6L0.6,0L0,0.6L-0.6,0Z","M-1.64,-0.2H1.64V0.2H-1.64Z M0,-0.65L0.65,0.5H-0.65Z","M-1.64,-0.2H1.64V0.2H-1.64Z M-0.55,-0.45L-0.45,-0.55L0.55,0.45L0.45,0.55Z M0.45,-0.55L0.55,-0.45L-0.45,0.55L-0.55,0.45Z"]},"legend":{"orient":"none","legendX":76,"legendY":144.6,"title":null,"labelExpr":"slice(datum.label,1)"}}}}],
"resolve":{"scale":{"color":"independent","shape":"independent"}}},
{"data":{"name":"n"},"transform":[{"filter":"datum.p==8"}],"layer":[
{"mark":{"type":"text","font":"Lato","fontWeight":"bold","fontSize":17,"color":"#000000"},"encoding":{"x":{"datum":-0.884,"type":"quantitative","axis":null},"y":{"datum":0.809,"type":"quantitative","axis":null},"text":{"field":"l"}}},
{"mark":{"type":"text","font":"Lato","fontWeight":"bold","fontSize":17,"color":"#000000"},"encoding":{"x":{"datum":0.796,"type":"quantitative","axis":null},"y":{"datum":0.809,"type":"quantitative","axis":null},"text":{"field":"r"}}}]}]}
],"spacing":26,"resolve":{"scale":{"color":"independent","shape":"independent"},"legend":{"color":"independent","shape":"independent"}}}
],"spacing":13.5,"resolve":{"scale":{"color":"independent","shape":"independent"},"legend":{"color":"independent","shape":"independent"}}},
{"vconcat":[
{"hconcat":[
{"width":221,"height":202,"layer":[
{"data":{"name":"g"},"transform":[{"calculate":"indexof(['テン','中盤','上がり'],datum.a)","as":"k"},{"calculate":"datum.v*cos(PI/2-datum.k*2*PI/3)/100","as":"x"},{"calculate":"datum.v*sin(PI/2-datum.k*2*PI/3)/100","as":"y"}],"encoding":{"x":{"field":"x","type":"quantitative","scale":{"domain":[-1.46,1.4867],"nice":false,"zero":false},"axis":null},"y":{"field":"y","type":"quantitative","scale":{"domain":[-1.3467,1.3467],"nice":false,"zero":false},"axis":null}},"layer":[
{"mark":{"type":"line","interpolate":"linear-closed","stroke":"#c3c3c3","strokeWidth":1},"encoding":{"detail":{"field":"v","type":"nominal"},"order":{"field":"k","type":"quantitative"}}},
{"transform":[{"filter":"datum.v==100"}],"layer":[
{"mark":{"type":"rule","stroke":"#c3c3c3","strokeWidth":1},"encoding":{"x2":{"datum":0},"y2":{"datum":0}}},
{"transform":[{"filter":"datum.k==0"}],"mark":{"type":"text","dy":-12,"fontSize":10.5,"color":"#262626"},"encoding":{"text":{"field":"a"}}},
{"transform":[{"filter":"datum.k==1"}],"mark":{"type":"text","align":"left","dx":5,"dy":2,"fontSize":10.5,"color":"#262626"},"encoding":{"text":{"field":"a"}}},
{"transform":[{"filter":"datum.k==2"}],"mark":{"type":"text","align":"right","dx":-5,"dy":1,"fontSize":10.5,"color":"#262626"},"encoding":{"text":{"field":"a"}}}]}]},
{"data":{"name":"s"},"transform":[{"filter":"datum.p==9"},{"calculate":"indexof(['テン','中盤','上がり'],datum.a)","as":"k"},{"calculate":"datum.v*cos(PI/2-datum.k*2*PI/3)/100","as":"x"},{"calculate":"datum.v*sin(PI/2-datum.k*2*PI/3)/100","as":"y"}],"encoding":{"x":{"field":"x","type":"quantitative","scale":{"domain":[-1.46,1.4867],"nice":false,"zero":false},"axis":null},"y":{"field":"y","type":"quantitative","scale":{"domain":[-1.3467,1.3467],"nice":false,"zero":false},"axis":null}},
"layer":[
{"mark":{"type":"line","interpolate":"linear-closed","strokeWidth":2.5},"encoding":{"color":{"field":"s","type":"nominal","scale":{"range":["#C0504D","#4F81BD","#9BBB59","#8064A2"]},"legend":null},"order":{"field":"k","type":"quantitative"}}},
{"mark":{"type":"point","filled":true,"opacity":1,"size":64},"encoding":{"color":{"field":"s","type":"nominal","scale":{"range":["#C0504D","#4F81BD","#9BBB59","#8064A2"]},"legend":null},"shape":{"field":"s","type":"nominal","scale":{"range":["M-1,-1H1V1H-1Z","M0,-0.9L0.9,0L0,0.9L-0.9,0Z","M0,-1.1L1.1,0.8H-1.1Z","M-1,-0.8L-0.8,-1L1,0.8L0.8,1Z M0.8,-1L1,-0.8L-0.8,1L-1,0.8Z"]},"legend":null}}},
{"mark":{"type":"point","filled":true,"opacity":1,"size":0},"encoding":{"color":{"field":"s","type":"nominal","scale":{"range":["#C0504D","#4F81BD","#9BBB59","#8064A2"]},"legend":{"orient":"none","legendX":80,"legendY":144.6,"title":null,"labelExpr":"slice(datum.label,1)"}},"shape":{"field":"s","type":"nominal","scale":{"range":["M-1.64,-0.2H1.64V0.2H-1.64Z M-0.6,-0.6H0.6V0.6H-0.6Z","M-1.64,-0.2H1.64V0.2H-1.64Z M0,-0.6L0.6,0L0,0.6L-0.6,0Z","M-1.64,-0.2H1.64V0.2H-1.64Z M0,-0.65L0.65,0.5H-0.65Z","M-1.64,-0.2H1.64V0.2H-1.64Z M-0.55,-0.45L-0.45,-0.55L0.55,0.45L0.45,0.55Z M0.45,-0.55L0.55,-0.45L-0.45,0.55L-0.55,0.45Z"]},"legend":{"orient":"none","legendX":80,"legendY":144.6,"title":null,"labelExpr":"slice(datum.label,1)"}}}}],
"resolve":{"scale":{"color":"independent","shape":"independent"}}},
{"data":{"name":"n"},"transform":[{"filter":"datum.p==9"}],"layer":[
{"mark":{"type":"text","font":"Lato","fontWeight":"bold","fontSize":17,"color":"#000000"},"encoding":{"x":{"datum":-0.884,"type":"quantitative","axis":null},"y":{"datum":0.809,"type":"quantitative","axis":null},"text":{"field":"l"}}},
{"mark":{"type":"text","font":"Lato","fontWeight":"bold","fontSize":17,"color":"#000000"},"encoding":{"x":{"datum":0.796,"type":"quantitative","axis":null},"y":{"datum":0.809,"type":"quantitative","axis":null},"text":{"field":"r"}}}]}]},
{"width":221,"height":202,"layer":[
{"data":{"name":"g"},"transform":[{"calculate":"indexof(['テン','中盤','上がり'],datum.a)","as":"k"},{"calculate":"datum.v*cos(PI/2-datum.k*2*PI/3)/100","as":"x"},{"calculate":"datum.v*sin(PI/2-datum.k*2*PI/3)/100","as":"y"}],"encoding":{"x":{"field":"x","type":"quantitative","scale":{"domain":[-1.46,1.4867],"nice":false,"zero":false},"axis":null},"y":{"field":"y","type":"quantitative","scale":{"domain":[-1.3467,1.3467],"nice":false,"zero":false},"axis":null}},"layer":[
{"mark":{"type":"line","interpolate":"linear-closed","stroke":"#c3c3c3","strokeWidth":1},"encoding":{"detail":{"field":"v","type":"nominal"},"order":{"field":"k","type":"quantitative"}}},
{"transform":[{"filter":"datum.v==100"}],"layer":[
{"mark":{"type":"rule","stroke":"#c3c3c3","strokeWidth":1},"encoding":{"x2":{"datum":0},"y2":{"datum":0}}},
{"transform":[{"filter":"datum.k==0"}],"mark":{"type":"text","dy":-12,"fontSize":10.5,"color":"#262626"},"encoding":{"text":{"field":"a"}}},
{"transform":[{"filter":"datum.k==1"}],"mark":{"type":"text","align":"left","dx":5,"dy":2,"fontSize":10.5,"color":"#262626"},"encoding":{"text":{"field":"a"}}},
{"transform":[{"filter":"datum.k==2"}],"mark":{"type":"text","align":"right","dx":-5,"dy":1,"fontSize":10.5,"color":"#262626"},"encoding":{"text":{"field":"a"}}}]}]},
{"data":{"name":"s"},"transform":[{"filter":"datum.p==10"},{"calculate":"indexof(['テン','中盤','上がり'],datum.a)","as":"k"},{"calculate":"datum.v*cos(PI/2-datum.k*2*PI/3)/100","as":"x"},{"calculate":"datum.v*sin(PI/2-datum.k*2*PI/3)/100","as":"y"}],"encoding":{"x":{"field":"x","type":"quantitative","scale":{"domain":[-1.46,1.4867],"nice":false,"zero":false},"axis":null},"y":{"field":"y","type":"quantitative","scale":{"domain":[-1.3467,1.3467],"nice":false,"zero":false},"axis":null}},
"layer":[
{"mark":{"type":"line","interpolate":"linear-closed","strokeWidth":2.5},"encoding":{"color":{"field":"s","type":"nominal","scale":{"range":["#C0504D","#4F81BD","#9BBB59","#8064A2"]},"legend":null},"order":{"field":"k","type":"quantitative"}}},
{"mark":{"type":"point","filled":true,"opacity":1,"size":64},"encoding":{"color":{"field":"s","type":"nominal","scale":{"range":["#C0504D","#4F81BD","#9BBB59","#8064A2"]},"legend":null},"shape":{"field":"s","type":"nominal","scale":{"range":["M-1,-1H1V1H-1Z","M0,-0.9L0.9,0L0,0.9L-0.9,0Z","M0,-1.1L1.1,0.8H-1.1Z","M-1,-0.8L-0.8,-1L1,0.8L0.8,1Z M0.8,-1L1,-0.8L-0.8,1L-1,0.8Z"]},"legend":null}}},
{"mark":{"type":"point","filled":true,"opacity":1,"size":0},"encoding":{"color":{"field":"s","type":"nominal","scale":{"range":["#C0504D","#4F81BD","#9BBB59","#8064A2"]},"legend":{"orient":"none","legendX":67,"legendY":144.6,"title":null,"labelExpr":"slice(datum.label,1)"}},"shape":{"field":"s","type":"nominal","scale":{"range":["M-1.64,-0.2H1.64V0.2H-1.64Z M-0.6,-0.6H0.6V0.6H-0.6Z","M-1.64,-0.2H1.64V0.2H-1.64Z M0,-0.6L0.6,0L0,0.6L-0.6,0Z","M-1.64,-0.2H1.64V0.2H-1.64Z M0,-0.65L0.65,0.5H-0.65Z","M-1.64,-0.2H1.64V0.2H-1.64Z M-0.55,-0.45L-0.45,-0.55L0.55,0.45L0.45,0.55Z M0.45,-0.55L0.55,-0.45L-0.45,0.55L-0.55,0.45Z"]},"legend":{"orient":"none","legendX":67,"legendY":144.6,"title":null,"labelExpr":"slice(datum.label,1)"}}}}],
"resolve":{"scale":{"color":"independent","shape":"independent"}}},
{"data":{"name":"n"},"transform":[{"filter":"datum.p==10"}],"layer":[
{"mark":{"type":"text","font":"Lato","fontWeight":"bold","fontSize":17,"color":"#000000"},"encoding":{"x":{"datum":-0.884,"type":"quantitative","axis":null},"y":{"datum":0.809,"type":"quantitative","axis":null},"text":{"field":"l"}}},
{"mark":{"type":"text","font":"Lato","fontWeight":"bold","fontSize":17,"color":"#000000"},"encoding":{"x":{"datum":0.796,"type":"quantitative","axis":null},"y":{"datum":0.809,"type":"quantitative","axis":null},"text":{"field":"r"}}}]}]},
{"width":221,"height":202,"layer":[
{"data":{"name":"g"},"transform":[{"calculate":"indexof(['テン','中盤','上がり'],datum.a)","as":"k"},{"calculate":"datum.v*cos(PI/2-datum.k*2*PI/3)/100","as":"x"},{"calculate":"datum.v*sin(PI/2-datum.k*2*PI/3)/100","as":"y"}],"encoding":{"x":{"field":"x","type":"quantitative","scale":{"domain":[-1.46,1.4867],"nice":false,"zero":false},"axis":null},"y":{"field":"y","type":"quantitative","scale":{"domain":[-1.3467,1.3467],"nice":false,"zero":false},"axis":null}},"layer":[
{"mark":{"type":"line","interpolate":"linear-closed","stroke":"#c3c3c3","strokeWidth":1},"encoding":{"detail":{"field":"v","type":"nominal"},"order":{"field":"k","type":"quantitative"}}},
{"transform":[{"filter":"datum.v==100"}],"layer":[
{"mark":{"type":"rule","stroke":"#c3c3c3","strokeWidth":1},"encoding":{"x2":{"datum":0},"y2":{"datum":0}}},
{"transform":[{"filter":"datum.k==0"}],"mark":{"type":"text","dy":-12,"fontSize":10.5,"color":"#262626"},"encoding":{"text":{"field":"a"}}},
{"transform":[{"filter":"datum.k==1"}],"mark":{"type":"text","align":"left","dx":5,"dy":2,"fontSize":10.5,"color":"#262626"},"encoding":{"text":{"field":"a"}}},
{"transform":[{"filter":"datum.k==2"}],"mark":{"type":"text","align":"right","dx":-5,"dy":1,"fontSize":10.5,"color":"#262626"},"encoding":{"text":{"field":"a"}}}]}]},
{"data":{"name":"s"},"transform":[{"filter":"datum.p==11"},{"calculate":"indexof(['テン','中盤','上がり'],datum.a)","as":"k"},{"calculate":"datum.v*cos(PI/2-datum.k*2*PI/3)/100","as":"x"},{"calculate":"datum.v*sin(PI/2-datum.k*2*PI/3)/100","as":"y"}],"encoding":{"x":{"field":"x","type":"quantitative","scale":{"domain":[-1.46,1.4867],"nice":false,"zero":false},"axis":null},"y":{"field":"y","type":"quantitative","scale":{"domain":[-1.3467,1.3467],"nice":false,"zero":false},"axis":null}},
"layer":[
{"mark":{"type":"line","interpolate":"linear-closed","strokeWidth":2.5},"encoding":{"color":{"field":"s","type":"nominal","scale":{"range":["#C0504D","#4F81BD","#9BBB59","#8064A2"]},"legend":null},"order":{"field":"k","type":"quantitative"}}},
{"mark":{"type":"point","filled":true,"opacity":1,"size":64},"encoding":{"color":{"field":"s","type":"nominal","scale":{"range":["#C0504D","#4F81BD","#9BBB59","#8064A2"]},"legend":null},"shape":{"field":"s","type":"nominal","scale":{"range":["M-1,-1H1V1H-1Z","M0,-0.9L0.9,0L0,0.9L-0.9,0Z","M0,-1.1L1.1,0.8H-1.1Z","M-1,-0.8L-0.8,-1L1,0.8L0.8,1Z M0.8,-1L1,-0.8L-0.8,1L-1,0.8Z"]},"legend":null}}},
{"mark":{"type":"point","filled":true,"opacity":1,"size":0},"encoding":{"color":{"field":"s","type":"nominal","scale":{"range":["#C0504D","#4F81BD","#9BBB59","#8064A2"]},"legend":{"orient":"none","legendX":67,"legendY":144.6,"title":null,"labelExpr":"slice(datum.label,1)"}},"shape":{"field":"s","type":"nominal","scale":{"range":["M-1.64,-0.2H1.64V0.2H-1.64Z M-0.6,-0.6H0.6V0.6H-0.6Z","M-1.64,-0.2H1.64V0.2H-1.64Z M0,-0.6L0.6,0L0,0.6L-0.6,0Z","M-1.64,-0.2H1.64V0.2H-1.64Z M0,-0.65L0.65,0.5H-0.65Z","M-1.64,-0.2H1.64V0.2H-1.64Z M-0.55,-0.45L-0.45,-0.55L0.55,0.45L0.45,0.55Z M0.45,-0.55L0.55,-0.45L-0.45,0.55L-0.55,0.45Z"]},"legend":{"orient":"none","legendX":67,"legendY":144.6,"title":null,"labelExpr":"slice(datum.label,1)"}}}}],
"resolve":{"scale":{"color":"independent","shape":"independent"}}},
{"data":{"name":"n"},"transform":[{"filter":"datum.p==11"}],"layer":[
{"mark":{"type":"text","font":"Lato","fontWeight":"bold","fontSize":17,"color":"#000000"},"encoding":{"x":{"datum":-0.884,"type":"quantitative","axis":null},"y":{"datum":0.809,"type":"quantitative","axis":null},"text":{"field":"l"}}},
{"mark":{"type":"text","font":"Lato","fontWeight":"bold","fontSize":17,"color":"#000000"},"encoding":{"x":{"datum":0.796,"type":"quantitative","axis":null},"y":{"datum":0.809,"type":"quantitative","axis":null},"text":{"field":"r"}}}]}]},
{"width":221,"height":202,"layer":[
{"data":{"name":"g"},"transform":[{"calculate":"indexof(['テン','中盤','上がり'],datum.a)","as":"k"},{"calculate":"datum.v*cos(PI/2-datum.k*2*PI/3)/100","as":"x"},{"calculate":"datum.v*sin(PI/2-datum.k*2*PI/3)/100","as":"y"}],"encoding":{"x":{"field":"x","type":"quantitative","scale":{"domain":[-1.46,1.4867],"nice":false,"zero":false},"axis":null},"y":{"field":"y","type":"quantitative","scale":{"domain":[-1.3467,1.3467],"nice":false,"zero":false},"axis":null}},"layer":[
{"mark":{"type":"line","interpolate":"linear-closed","stroke":"#c3c3c3","strokeWidth":1},"encoding":{"detail":{"field":"v","type":"nominal"},"order":{"field":"k","type":"quantitative"}}},
{"transform":[{"filter":"datum.v==100"}],"layer":[
{"mark":{"type":"rule","stroke":"#c3c3c3","strokeWidth":1},"encoding":{"x2":{"datum":0},"y2":{"datum":0}}},
{"transform":[{"filter":"datum.k==0"}],"mark":{"type":"text","dy":-12,"fontSize":10.5,"color":"#262626"},"encoding":{"text":{"field":"a"}}},
{"transform":[{"filter":"datum.k==1"}],"mark":{"type":"text","align":"left","dx":5,"dy":2,"fontSize":10.5,"color":"#262626"},"encoding":{"text":{"field":"a"}}},
{"transform":[{"filter":"datum.k==2"}],"mark":{"type":"text","align":"right","dx":-5,"dy":1,"fontSize":10.5,"color":"#262626"},"encoding":{"text":{"field":"a"}}}]}]},
{"data":{"name":"s"},"transform":[{"filter":"datum.p==12"},{"calculate":"indexof(['テン','中盤','上がり'],datum.a)","as":"k"},{"calculate":"datum.v*cos(PI/2-datum.k*2*PI/3)/100","as":"x"},{"calculate":"datum.v*sin(PI/2-datum.k*2*PI/3)/100","as":"y"}],"encoding":{"x":{"field":"x","type":"quantitative","scale":{"domain":[-1.46,1.4867],"nice":false,"zero":false},"axis":null},"y":{"field":"y","type":"quantitative","scale":{"domain":[-1.3467,1.3467],"nice":false,"zero":false},"axis":null}},
"layer":[
{"mark":{"type":"line","interpolate":"linear-closed","strokeWidth":2.5},"encoding":{"color":{"field":"s","type":"nominal","scale":{"range":["#C0504D","#4F81BD","#9BBB59","#8064A2"]},"legend":null},"order":{"field":"k","type":"quantitative"}}},
{"mark":{"type":"point","filled":true,"opacity":1,"size":64},"encoding":{"color":{"field":"s","type":"nominal","scale":{"range":["#C0504D","#4F81BD","#9BBB59","#8064A2"]},"legend":null},"shape":{"field":"s","type":"nominal","scale":{"range":["M-1,-1H1V1H-1Z","M0,-0.9L0.9,0L0,0.9L-0.9,0Z","M0,-1.1L1.1,0.8H-1.1Z","M-1,-0.8L-0.8,-1L1,0.8L0.8,1Z M0.8,-1L1,-0.8L-0.8,1L-1,0.8Z"]},"legend":null}}},
{"mark":{"type":"point","filled":true,"opacity":1,"size":0},"encoding":{"color":{"field":"s","type":"nominal","scale":{"range":["#C0504D","#4F81BD","#9BBB59","#8064A2"]},"legend":{"orient":"none","legendX":80,"legendY":144.6,"title":null,"labelExpr":"slice(datum.label,1)"}},"shape":{"field":"s","type":"nominal","scale":{"range":["M-1.64,-0.2H1.64V0.2H-1.64Z M-0.6,-0.6H0.6V0.6H-0.6Z","M-1.64,-0.2H1.64V0.2H-1.64Z M0,-0.6L0.6,0L0,0.6L-0.6,0Z","M-1.64,-0.2H1.64V0.2H-1.64Z M0,-0.65L0.65,0.5H-0.65Z","M-1.64,-0.2H1.64V0.2H-1.64Z M-0.55,-0.45L-0.45,-0.55L0.55,0.45L0.45,0.55Z M0.45,-0.55L0.55,-0.45L-0.45,0.55L-0.55,0.45Z"]},"legend":{"orient":"none","legendX":80,"legendY":144.6,"title":null,"labelExpr":"slice(datum.label,1)"}}}}],
"resolve":{"scale":{"color":"independent","shape":"independent"}}},
{"data":{"name":"n"},"transform":[{"filter":"datum.p==12"}],"layer":[
{"mark":{"type":"text","font":"Lato","fontWeight":"bold","fontSize":17,"color":"#000000"},"encoding":{"x":{"datum":-0.884,"type":"quantitative","axis":null},"y":{"datum":0.809,"type":"quantitative","axis":null},"text":{"field":"l"}}},
{"mark":{"type":"text","font":"Lato","fontWeight":"bold","fontSize":17,"color":"#000000"},"encoding":{"x":{"datum":0.796,"type":"quantitative","axis":null},"y":{"datum":0.809,"type":"quantitative","axis":null},"text":{"field":"r"}}}]}]}
],"spacing":26,"resolve":{"scale":{"color":"independent","shape":"independent"},"legend":{"color":"independent","shape":"independent"}}},
{"hconcat":[
{"width":221,"height":202,"layer":[
{"data":{"name":"g"},"transform":[{"calculate":"indexof(['テン','中盤','上がり'],datum.a)","as":"k"},{"calculate":"datum.v*cos(PI/2-datum.k*2*PI/3)/100","as":"x"},{"calculate":"datum.v*sin(PI/2-datum.k*2*PI/3)/100","as":"y"}],"encoding":{"x":{"field":"x","type":"quantitative","scale":{"domain":[-1.46,1.4867],"nice":false,"zero":false},"axis":null},"y":{"field":"y","type":"quantitative","scale":{"domain":[-1.3467,1.3467],"nice":false,"zero":false},"axis":null}},"layer":[
{"mark":{"type":"line","interpolate":"linear-closed","stroke":"#c3c3c3","strokeWidth":1},"encoding":{"detail":{"field":"v","type":"nominal"},"order":{"field":"k","type":"quantitative"}}},
{"transform":[{"filter":"datum.v==100"}],"layer":[
{"mark":{"type":"rule","stroke":"#c3c3c3","strokeWidth":1},"encoding":{"x2":{"datum":0},"y2":{"datum":0}}},
{"transform":[{"filter":"datum.k==0"}],"mark":{"type":"text","dy":-12,"fontSize":10.5,"color":"#262626"},"encoding":{"text":{"field":"a"}}},
{"transform":[{"filter":"datum.k==1"}],"mark":{"type":"text","align":"left","dx":5,"dy":2,"fontSize":10.5,"color":"#262626"},"encoding":{"text":{"field":"a"}}},
{"transform":[{"filter":"datum.k==2"}],"mark":{"type":"text","align":"right","dx":-5,"dy":1,"fontSize":10.5,"color":"#262626"},"encoding":{"text":{"field":"a"}}}]}]},
{"data":{"name":"s"},"transform":[{"filter":"datum.p==13"},{"calculate":"indexof(['テン','中盤','上がり'],datum.a)","as":"k"},{"calculate":"datum.v*cos(PI/2-datum.k*2*PI/3)/100","as":"x"},{"calculate":"datum.v*sin(PI/2-datum.k*2*PI/3)/100","as":"y"}],"encoding":{"x":{"field":"x","type":"quantitative","scale":{"domain":[-1.46,1.4867],"nice":false,"zero":false},"axis":null},"y":{"field":"y","type":"quantitative","scale":{"domain":[-1.3467,1.3467],"nice":false,"zero":false},"axis":null}},
"layer":[
{"mark":{"type":"line","interpolate":"linear-closed","strokeWidth":2.5},"encoding":{"color":{"field":"s","type":"nominal","scale":{"range":["#C0504D","#4F81BD","#9BBB59","#8064A2"]},"legend":null},"order":{"field":"k","type":"quantitative"}}},
{"mark":{"type":"point","filled":true,"opacity":1,"size":64},"encoding":{"color":{"field":"s","type":"nominal","scale":{"range":["#C0504D","#4F81BD","#9BBB59","#8064A2"]},"legend":null},"shape":{"field":"s","type":"nominal","scale":{"range":["M-1,-1H1V1H-1Z","M0,-0.9L0.9,0L0,0.9L-0.9,0Z","M0,-1.1L1.1,0.8H-1.1Z","M-1,-0.8L-0.8,-1L1,0.8L0.8,1Z M0.8,-1L1,-0.8L-0.8,1L-1,0.8Z"]},"legend":null}}},
{"mark":{"type":"point","filled":true,"opacity":1,"size":0},"encoding":{"color":{"field":"s","type":"nominal","scale":{"range":["#C0504D","#4F81BD","#9BBB59","#8064A2"]},"legend":{"orient":"none","legendX":63,"legendY":144.6,"title":null,"labelExpr":"slice(datum.label,1)"}},"shape":{"field":"s","type":"nominal","scale":{"range":["M-1.64,-0.2H1.64V0.2H-1.64Z M-0.6,-0.6H0.6V0.6H-0.6Z","M-1.64,-0.2H1.64V0.2H-1.64Z M0,-0.6L0.6,0L0,0.6L-0.6,0Z","M-1.64,-0.2H1.64V0.2H-1.64Z M0,-0.65L0.65,0.5H-0.65Z","M-1.64,-0.2H1.64V0.2H-1.64Z M-0.55,-0.45L-0.45,-0.55L0.55,0.45L0.45,0.55Z M0.45,-0.55L0.55,-0.45L-0.45,0.55L-0.55,0.45Z"]},"legend":{"orient":"none","legendX":63,"legendY":144.6,"title":null,"labelExpr":"slice(datum.label,1)"}}}}],
"resolve":{"scale":{"color":"independent","shape":"independent"}}},
{"data":{"name":"n"},"transform":[{"filter":"datum.p==13"}],"layer":[
{"mark":{"type":"text","font":"Lato","fontWeight":"bold","fontSize":17,"color":"#000000"},"encoding":{"x":{"datum":-0.884,"type":"quantitative","axis":null},"y":{"datum":0.809,"type":"quantitative","axis":null},"text":{"field":"l"}}},
{"mark":{"type":"text","font":"Lato","fontWeight":"bold","fontSize":17,"color":"#000000"},"encoding":{"x":{"datum":0.796,"type":"quantitative","axis":null},"y":{"datum":0.809,"type":"quantitative","axis":null},"text":{"field":"r"}}}]}]},
{"width":221,"height":202,"layer":[
{"data":{"name":"g"},"transform":[{"calculate":"indexof(['テン','中盤','上がり'],datum.a)","as":"k"},{"calculate":"datum.v*cos(PI/2-datum.k*2*PI/3)/100","as":"x"},{"calculate":"datum.v*sin(PI/2-datum.k*2*PI/3)/100","as":"y"}],"encoding":{"x":{"field":"x","type":"quantitative","scale":{"domain":[-1.46,1.4867],"nice":false,"zero":false},"axis":null},"y":{"field":"y","type":"quantitative","scale":{"domain":[-1.3467,1.3467],"nice":false,"zero":false},"axis":null}},"layer":[
{"mark":{"type":"line","interpolate":"linear-closed","stroke":"#c3c3c3","strokeWidth":1},"encoding":{"detail":{"field":"v","type":"nominal"},"order":{"field":"k","type":"quantitative"}}},
{"transform":[{"filter":"datum.v==100"}],"layer":[
{"mark":{"type":"rule","stroke":"#c3c3c3","strokeWidth":1},"encoding":{"x2":{"datum":0},"y2":{"datum":0}}},
{"transform":[{"filter":"datum.k==0"}],"mark":{"type":"text","dy":-12,"fontSize":10.5,"color":"#262626"},"encoding":{"text":{"field":"a"}}},
{"transform":[{"filter":"datum.k==1"}],"mark":{"type":"text","align":"left","dx":5,"dy":2,"fontSize":10.5,"color":"#262626"},"encoding":{"text":{"field":"a"}}},
{"transform":[{"filter":"datum.k==2"}],"mark":{"type":"text","align":"right","dx":-5,"dy":1,"fontSize":10.5,"color":"#262626"},"encoding":{"text":{"field":"a"}}}]}]},
{"data":{"name":"s"},"transform":[{"filter":"datum.p==14"},{"calculate":"indexof(['テン','中盤','上がり'],datum.a)","as":"k"},{"calculate":"datum.v*cos(PI/2-datum.k*2*PI/3)/100","as":"x"},{"calculate":"datum.v*sin(PI/2-datum.k*2*PI/3)/100","as":"y"}],"encoding":{"x":{"field":"x","type":"quantitative","scale":{"domain":[-1.46,1.4867],"nice":false,"zero":false},"axis":null},"y":{"field":"y","type":"quantitative","scale":{"domain":[-1.3467,1.3467],"nice":false,"zero":false},"axis":null}},
"layer":[
{"mark":{"type":"line","interpolate":"linear-closed","strokeWidth":2.5},"encoding":{"color":{"field":"s","type":"nominal","scale":{"range":["#C0504D","#4F81BD","#9BBB59","#8064A2"]},"legend":null},"order":{"field":"k","type":"quantitative"}}},
{"mark":{"type":"point","filled":true,"opacity":1,"size":64},"encoding":{"color":{"field":"s","type":"nominal","scale":{"range":["#C0504D","#4F81BD","#9BBB59","#8064A2"]},"legend":null},"shape":{"field":"s","type":"nominal","scale":{"range":["M-1,-1H1V1H-1Z","M0,-0.9L0.9,0L0,0.9L-0.9,0Z","M0,-1.1L1.1,0.8H-1.1Z","M-1,-0.8L-0.8,-1L1,0.8L0.8,1Z M0.8,-1L1,-0.8L-0.8,1L-1,0.8Z"]},"legend":null}}},
{"mark":{"type":"point","filled":true,"opacity":1,"size":0},"encoding":{"color":{"field":"s","type":"nominal","scale":{"range":["#C0504D","#4F81BD","#9BBB59","#8064A2"]},"legend":{"orient":"none","legendX":84,"legendY":144.6,"title":null,"labelExpr":"slice(datum.label,1)"}},"shape":{"field":"s","type":"nominal","scale":{"range":["M-1.64,-0.2H1.64V0.2H-1.64Z M-0.6,-0.6H0.6V0.6H-0.6Z","M-1.64,-0.2H1.64V0.2H-1.64Z M0,-0.6L0.6,0L0,0.6L-0.6,0Z","M-1.64,-0.2H1.64V0.2H-1.64Z M0,-0.65L0.65,0.5H-0.65Z","M-1.64,-0.2H1.64V0.2H-1.64Z M-0.55,-0.45L-0.45,-0.55L0.55,0.45L0.45,0.55Z M0.45,-0.55L0.55,-0.45L-0.45,0.55L-0.55,0.45Z"]},"legend":{"orient":"none","legendX":84,"legendY":144.6,"title":null,"labelExpr":"slice(datum.label,1)"}}}}],
"resolve":{"scale":{"color":"independent","shape":"independent"}}},
{"data":{"name":"n"},"transform":[{"filter":"datum.p==14"}],"layer":[
{"mark":{"type":"text","font":"Lato","fontWeight":"bold","fontSize":17,"color":"#000000"},"encoding":{"x":{"datum":-0.884,"type":"quantitative","axis":null},"y":{"datum":0.809,"type":"quantitative","axis":null},"text":{"field":"l"}}},
{"mark":{"type":"text","font":"Lato","fontWeight":"bold","fontSize":17,"color":"#000000"},"encoding":{"x":{"datum":0.796,"type":"quantitative","axis":null},"y":{"datum":0.809,"type":"quantitative","axis":null},"text":{"field":"r"}}}]}]},
{"width":221,"height":202,"layer":[
{"data":{"name":"g"},"transform":[{"calculate":"indexof(['テン','中盤','上がり'],datum.a)","as":"k"},{"calculate":"datum.v*cos(PI/2-datum.k*2*PI/3)/100","as":"x"},{"calculate":"datum.v*sin(PI/2-datum.k*2*PI/3)/100","as":"y"}],"encoding":{"x":{"field":"x","type":"quantitative","scale":{"domain":[-1.46,1.4867],"nice":false,"zero":false},"axis":null},"y":{"field":"y","type":"quantitative","scale":{"domain":[-1.3467,1.3467],"nice":false,"zero":false},"axis":null}},"layer":[
{"mark":{"type":"line","interpolate":"linear-closed","stroke":"#c3c3c3","strokeWidth":1},"encoding":{"detail":{"field":"v","type":"nominal"},"order":{"field":"k","type":"quantitative"}}},
{"transform":[{"filter":"datum.v==100"}],"layer":[
{"mark":{"type":"rule","stroke":"#c3c3c3","strokeWidth":1},"encoding":{"x2":{"datum":0},"y2":{"datum":0}}},
{"transform":[{"filter":"datum.k==0"}],"mark":{"type":"text","dy":-12,"fontSize":10.5,"color":"#262626"},"encoding":{"text":{"field":"a"}}},
{"transform":[{"filter":"datum.k==1"}],"mark":{"type":"text","align":"left","dx":5,"dy":2,"fontSize":10.5,"color":"#262626"},"encoding":{"text":{"field":"a"}}},
{"transform":[{"filter":"datum.k==2"}],"mark":{"type":"text","align":"right","dx":-5,"dy":1,"fontSize":10.5,"color":"#262626"},"encoding":{"text":{"field":"a"}}}]}]},
{"data":{"name":"s"},"transform":[{"filter":"datum.p==15"},{"calculate":"indexof(['テン','中盤','上がり'],datum.a)","as":"k"},{"calculate":"datum.v*cos(PI/2-datum.k*2*PI/3)/100","as":"x"},{"calculate":"datum.v*sin(PI/2-datum.k*2*PI/3)/100","as":"y"}],"encoding":{"x":{"field":"x","type":"quantitative","scale":{"domain":[-1.46,1.4867],"nice":false,"zero":false},"axis":null},"y":{"field":"y","type":"quantitative","scale":{"domain":[-1.3467,1.3467],"nice":false,"zero":false},"axis":null}},
"layer":[
{"mark":{"type":"line","interpolate":"linear-closed","strokeWidth":2.5},"encoding":{"color":{"field":"s","type":"nominal","scale":{"range":["#C0504D","#4F81BD","#9BBB59","#8064A2"]},"legend":null},"order":{"field":"k","type":"quantitative"}}},
{"mark":{"type":"point","filled":true,"opacity":1,"size":64},"encoding":{"color":{"field":"s","type":"nominal","scale":{"range":["#C0504D","#4F81BD","#9BBB59","#8064A2"]},"legend":null},"shape":{"field":"s","type":"nominal","scale":{"range":["M-1,-1H1V1H-1Z","M0,-0.9L0.9,0L0,0.9L-0.9,0Z","M0,-1.1L1.1,0.8H-1.1Z","M-1,-0.8L-0.8,-1L1,0.8L0.8,1Z M0.8,-1L1,-0.8L-0.8,1L-1,0.8Z"]},"legend":null}}},
{"mark":{"type":"point","filled":true,"opacity":1,"size":0},"encoding":{"color":{"field":"s","type":"nominal","scale":{"range":["#C0504D","#4F81BD","#9BBB59","#8064A2"]},"legend":{"orient":"none","legendX":80,"legendY":144.6,"title":null,"labelExpr":"slice(datum.label,1)"}},"shape":{"field":"s","type":"nominal","scale":{"range":["M-1.64,-0.2H1.64V0.2H-1.64Z M-0.6,-0.6H0.6V0.6H-0.6Z","M-1.64,-0.2H1.64V0.2H-1.64Z M0,-0.6L0.6,0L0,0.6L-0.6,0Z","M-1.64,-0.2H1.64V0.2H-1.64Z M0,-0.65L0.65,0.5H-0.65Z","M-1.64,-0.2H1.64V0.2H-1.64Z M-0.55,-0.45L-0.45,-0.55L0.55,0.45L0.45,0.55Z M0.45,-0.55L0.55,-0.45L-0.45,0.55L-0.55,0.45Z"]},"legend":{"orient":"none","legendX":80,"legendY":144.6,"title":null,"labelExpr":"slice(datum.label,1)"}}}}],
"resolve":{"scale":{"color":"independent","shape":"independent"}}},
{"data":{"name":"n"},"transform":[{"filter":"datum.p==15"}],"layer":[
{"mark":{"type":"text","font":"Lato","fontWeight":"bold","fontSize":17,"color":"#000000"},"encoding":{"x":{"datum":-0.884,"type":"quantitative","axis":null},"y":{"datum":0.809,"type":"quantitative","axis":null},"text":{"field":"l"}}},
{"mark":{"type":"text","font":"Lato","fontWeight":"bold","fontSize":17,"color":"#000000"},"encoding":{"x":{"datum":0.796,"type":"quantitative","axis":null},"y":{"datum":0.809,"type":"quantitative","axis":null},"text":{"field":"r"}}}]}]},
{"width":221,"height":202,"layer":[
{"data":{"name":"g"},"transform":[{"calculate":"indexof(['テン','中盤','上がり'],datum.a)","as":"k"},{"calculate":"datum.v*cos(PI/2-datum.k*2*PI/3)/100","as":"x"},{"calculate":"datum.v*sin(PI/2-datum.k*2*PI/3)/100","as":"y"}],"encoding":{"x":{"field":"x","type":"quantitative","scale":{"domain":[-1.46,1.4867],"nice":false,"zero":false},"axis":null},"y":{"field":"y","type":"quantitative","scale":{"domain":[-1.3467,1.3467],"nice":false,"zero":false},"axis":null}},"layer":[
{"mark":{"type":"line","interpolate":"linear-closed","stroke":"#c3c3c3","strokeWidth":1},"encoding":{"detail":{"field":"v","type":"nominal"},"order":{"field":"k","type":"quantitative"}}},
{"transform":[{"filter":"datum.v==100"}],"layer":[
{"mark":{"type":"rule","stroke":"#c3c3c3","strokeWidth":1},"encoding":{"x2":{"datum":0},"y2":{"datum":0}}},
{"transform":[{"filter":"datum.k==0"}],"mark":{"type":"text","dy":-12,"fontSize":10.5,"color":"#262626"},"encoding":{"text":{"field":"a"}}},
{"transform":[{"filter":"datum.k==1"}],"mark":{"type":"text","align":"left","dx":5,"dy":2,"fontSize":10.5,"color":"#262626"},"encoding":{"text":{"field":"a"}}},
{"transform":[{"filter":"datum.k==2"}],"mark":{"type":"text","align":"right","dx":-5,"dy":1,"fontSize":10.5,"color":"#262626"},"encoding":{"text":{"field":"a"}}}]}]},
{"data":{"name":"s"},"transform":[{"filter":"datum.p==16"},{"calculate":"indexof(['テン','中盤','上がり'],datum.a)","as":"k"},{"calculate":"datum.v*cos(PI/2-datum.k*2*PI/3)/100","as":"x"},{"calculate":"datum.v*sin(PI/2-datum.k*2*PI/3)/100","as":"y"}],"encoding":{"x":{"field":"x","type":"quantitative","scale":{"domain":[-1.46,1.4867],"nice":false,"zero":false},"axis":null},"y":{"field":"y","type":"quantitative","scale":{"domain":[-1.3467,1.3467],"nice":false,"zero":false},"axis":null}},
"layer":[
{"mark":{"type":"line","interpolate":"linear-closed","strokeWidth":2.5},"encoding":{"color":{"field":"s","type":"nominal","scale":{"domain":["1","2レース","3","4レース"],"range":["#C0504D","#4F81BD","#9BBB59","#8064A2"]},"legend":null},"order":{"field":"k","type":"quantitative"}}},
{"mark":{"type":"point","filled":true,"opacity":1,"size":64},"encoding":{"color":{"field":"s","type":"nominal","scale":{"domain":["1","2レース","3","4レース"],"range":["#C0504D","#4F81BD","#9BBB59","#8064A2"]},"legend":null},"shape":{"field":"s","type":"nominal","scale":{"domain":["1","2レース","3","4レース"],"range":["M-1,-1H1V1H-1Z","M0,-0.9L0.9,0L0,0.9L-0.9,0Z","M0,-1.1L1.1,0.8H-1.1Z","M-1,-0.8L-0.8,-1L1,0.8L0.8,1Z M0.8,-1L1,-0.8L-0.8,1L-1,0.8Z"]},"legend":null}}},
{"mark":{"type":"point","filled":true,"opacity":1,"size":0},"encoding":{"color":{"field":"s","type":"nominal","scale":{"domain":["1","2レース","3","4レース"],"range":["#C0504D","#4F81BD","#9BBB59","#8064A2"]},"legend":{"orient":"none","legendX":64,"legendY":143,"title":null,"labelExpr":"slice(datum.label,1)","columns":2,"direction":"horizontal","columnPadding":32,"rowPadding":16}},"shape":{"field":"s","type":"nominal","scale":{"domain":["1","2レース","3","4レース"],"range":["M-1.64,-0.2H1.64V0.2H-1.64Z M-0.6,-0.6H0.6V0.6H-0.6Z","M-1.64,-0.2H1.64V0.2H-1.64Z M0,-0.6L0.6,0L0,0.6L-0.6,0Z","M-1.64,-0.2H1.64V0.2H-1.64Z M0,-0.65L0.65,0.5H-0.65Z","M-1.64,-0.2H1.64V0.2H-1.64Z M-0.55,-0.45L-0.45,-0.55L0.55,0.45L0.45,0.55Z M0.45,-0.55L0.55,-0.45L-0.45,0.55L-0.55,0.45Z"]},"legend":{"orient":"none","legendX":64,"legendY":143,"title":null,"labelExpr":"slice(datum.label,1)","columns":2,"direction":"horizontal","columnPadding":32,"rowPadding":16}}}}],
"resolve":{"scale":{"color":"independent","shape":"independent"}}},
{"data":{"name":"n"},"transform":[{"filter":"datum.p==16"}],"layer":[
{"mark":{"type":"text","font":"Lato","fontWeight":"bold","fontSize":17,"color":"#000000"},"encoding":{"x":{"datum":-0.884,"type":"quantitative","axis":null},"y":{"datum":0.809,"type":"quantitative","axis":null},"text":{"field":"l"}}},
{"mark":{"type":"text","font":"Lato","fontWeight":"bold","fontSize":17,"color":"#000000"},"encoding":{"x":{"datum":0.796,"type":"quantitative","axis":null},"y":{"datum":0.809,"type":"quantitative","axis":null},"text":{"field":"r"}}}]}]}
],"spacing":26,"resolve":{"scale":{"color":"independent","shape":"independent"},"legend":{"color":"independent","shape":"independent"}}}
],"spacing":6,"resolve":{"scale":{"color":"independent","shape":"independent"},"legend":{"color":"independent","shape":"independent"}}}
],"spacing":9.5,"resolve":{"scale":{"color":"independent","shape":"independent"},"legend":{"color":"independent","shape":"independent"}}
}
